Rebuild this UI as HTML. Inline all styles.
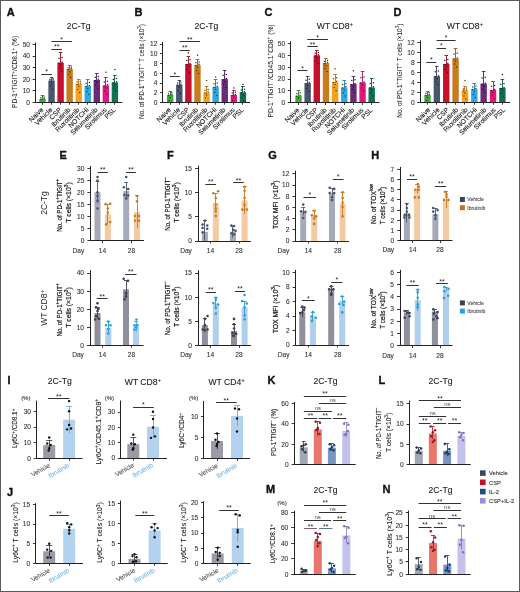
<!DOCTYPE html>
<html><head><meta charset="utf-8"><style>
html,body{margin:0;padding:0;background:#fff;}
#w{position:relative;width:520px;height:592px;overflow:hidden;background:#fff;}
svg{position:absolute;left:0;top:0;will-change:transform;}
</style></head><body><div id="w">
<svg width="520" height="592" viewBox="0 0 520 592" font-family='"Liberation Sans", sans-serif'>
<rect x="0" y="0" width="520" height="592" fill="#fff"/>
<rect x="39.30" y="99.01" width="6.40" height="3.49" fill="#3cab3a"/>
<line x1="42.50" y1="95.53" x2="42.50" y2="100.01" stroke="#2b7b29" stroke-width="0.9"/>
<line x1="40.70" y1="95.50" x2="44.30" y2="95.50" stroke="#2b7b29" stroke-width="0.9"/>
<circle cx="40.90" cy="97.77" r="0.75" fill="#194718"/>
<circle cx="44.10" cy="96.97" r="0.75" fill="#194718"/>
<circle cx="40.90" cy="99.61" r="0.75" fill="#194718"/>
<circle cx="44.10" cy="98.41" r="0.75" fill="#194718"/>
<rect x="48.35" y="80.65" width="6.40" height="21.85" fill="#4a566e"/>
<line x1="51.50" y1="77.52" x2="51.50" y2="81.65" stroke="#353d4f" stroke-width="0.9"/>
<line x1="49.75" y1="77.50" x2="53.35" y2="77.50" stroke="#353d4f" stroke-width="0.9"/>
<circle cx="49.95" cy="79.59" r="0.75" fill="#1f242e"/>
<circle cx="53.15" cy="78.79" r="0.75" fill="#1f242e"/>
<circle cx="49.95" cy="81.25" r="0.75" fill="#1f242e"/>
<circle cx="53.15" cy="80.05" r="0.75" fill="#1f242e"/>
<circle cx="51.55" cy="83.25" r="0.75" fill="#1f242e"/>
<circle cx="50.55" cy="86.15" r="0.75" fill="#1f242e"/>
<circle cx="52.55" cy="89.15" r="0.75" fill="#1f242e"/>
<rect x="57.40" y="62.76" width="6.40" height="39.74" fill="#c8102e"/>
<line x1="60.50" y1="52.88" x2="60.50" y2="63.76" stroke="#900b21" stroke-width="0.9"/>
<line x1="58.80" y1="52.50" x2="62.40" y2="52.50" stroke="#900b21" stroke-width="0.9"/>
<circle cx="59.00" cy="58.32" r="0.75" fill="#540613"/>
<circle cx="62.20" cy="57.52" r="0.75" fill="#540613"/>
<circle cx="59.00" cy="63.36" r="0.75" fill="#540613"/>
<circle cx="62.20" cy="62.16" r="0.75" fill="#540613"/>
<circle cx="60.60" cy="65.36" r="0.75" fill="#540613"/>
<circle cx="59.60" cy="68.26" r="0.75" fill="#540613"/>
<circle cx="61.60" cy="71.26" r="0.75" fill="#540613"/>
<rect x="66.45" y="69.03" width="6.40" height="33.47" fill="#c77c1e"/>
<line x1="69.50" y1="65.43" x2="69.50" y2="70.03" stroke="#8f5915" stroke-width="0.9"/>
<line x1="67.85" y1="65.50" x2="71.45" y2="65.50" stroke="#8f5915" stroke-width="0.9"/>
<circle cx="68.05" cy="67.73" r="0.75" fill="#53340c"/>
<circle cx="71.25" cy="66.93" r="0.75" fill="#53340c"/>
<circle cx="68.05" cy="69.63" r="0.75" fill="#53340c"/>
<circle cx="71.25" cy="68.43" r="0.75" fill="#53340c"/>
<circle cx="69.65" cy="71.63" r="0.75" fill="#53340c"/>
<circle cx="68.65" cy="74.53" r="0.75" fill="#53340c"/>
<circle cx="70.65" cy="77.53" r="0.75" fill="#53340c"/>
<rect x="75.50" y="83.91" width="6.40" height="18.59" fill="#f7a11a"/>
<line x1="78.50" y1="79.26" x2="78.50" y2="84.91" stroke="#b17312" stroke-width="0.9"/>
<line x1="76.90" y1="79.50" x2="80.50" y2="79.50" stroke="#b17312" stroke-width="0.9"/>
<circle cx="77.10" cy="82.08" r="0.75" fill="#67430a"/>
<circle cx="80.30" cy="81.28" r="0.75" fill="#67430a"/>
<circle cx="77.10" cy="84.51" r="0.75" fill="#67430a"/>
<circle cx="80.30" cy="83.31" r="0.75" fill="#67430a"/>
<circle cx="78.70" cy="86.51" r="0.75" fill="#67430a"/>
<circle cx="77.70" cy="89.41" r="0.75" fill="#67430a"/>
<circle cx="79.70" cy="92.41" r="0.75" fill="#67430a"/>
<rect x="84.55" y="86.00" width="6.40" height="16.50" fill="#2fa8e0"/>
<line x1="87.50" y1="79.84" x2="87.50" y2="87.00" stroke="#2178a1" stroke-width="0.9"/>
<line x1="85.95" y1="79.50" x2="89.55" y2="79.50" stroke="#2178a1" stroke-width="0.9"/>
<circle cx="86.15" cy="83.42" r="0.75" fill="#13465e"/>
<circle cx="89.35" cy="82.62" r="0.75" fill="#13465e"/>
<circle cx="86.15" cy="86.60" r="0.75" fill="#13465e"/>
<circle cx="89.35" cy="85.40" r="0.75" fill="#13465e"/>
<circle cx="87.75" cy="88.60" r="0.75" fill="#13465e"/>
<circle cx="86.75" cy="91.50" r="0.75" fill="#13465e"/>
<circle cx="88.75" cy="94.50" r="0.75" fill="#13465e"/>
<rect x="93.60" y="79.96" width="6.40" height="22.54" fill="#6a2a7a"/>
<line x1="96.50" y1="73.45" x2="96.50" y2="80.96" stroke="#4c1e57" stroke-width="0.9"/>
<line x1="95.00" y1="73.50" x2="98.60" y2="73.50" stroke="#4c1e57" stroke-width="0.9"/>
<circle cx="95.20" cy="77.20" r="0.75" fill="#2c1133"/>
<circle cx="98.40" cy="76.40" r="0.75" fill="#2c1133"/>
<circle cx="95.20" cy="80.56" r="0.75" fill="#2c1133"/>
<circle cx="98.40" cy="79.36" r="0.75" fill="#2c1133"/>
<circle cx="96.80" cy="82.56" r="0.75" fill="#2c1133"/>
<circle cx="95.80" cy="85.46" r="0.75" fill="#2c1133"/>
<circle cx="97.80" cy="88.46" r="0.75" fill="#2c1133"/>
<rect x="102.65" y="85.42" width="6.40" height="17.08" fill="#e5167f"/>
<line x1="105.50" y1="77.52" x2="105.50" y2="86.42" stroke="#a40f5b" stroke-width="0.9"/>
<line x1="104.05" y1="77.50" x2="107.65" y2="77.50" stroke="#a40f5b" stroke-width="0.9"/>
<circle cx="104.25" cy="81.97" r="0.75" fill="#600935"/>
<circle cx="107.45" cy="81.17" r="0.75" fill="#600935"/>
<circle cx="104.25" cy="86.02" r="0.75" fill="#600935"/>
<circle cx="107.45" cy="84.82" r="0.75" fill="#600935"/>
<circle cx="105.85" cy="88.02" r="0.75" fill="#600935"/>
<circle cx="104.85" cy="90.92" r="0.75" fill="#600935"/>
<circle cx="106.85" cy="93.92" r="0.75" fill="#600935"/>
<circle cx="105.85" cy="72.29" r="0.75" fill="#600935"/>
<rect x="111.70" y="82.40" width="6.40" height="20.10" fill="#0f7250"/>
<line x1="114.50" y1="75.43" x2="114.50" y2="83.40" stroke="#0a5239" stroke-width="0.9"/>
<line x1="113.10" y1="75.50" x2="116.70" y2="75.50" stroke="#0a5239" stroke-width="0.9"/>
<circle cx="113.30" cy="79.41" r="0.75" fill="#062f21"/>
<circle cx="116.50" cy="78.61" r="0.75" fill="#062f21"/>
<circle cx="113.30" cy="83.00" r="0.75" fill="#062f21"/>
<circle cx="116.50" cy="81.80" r="0.75" fill="#062f21"/>
<circle cx="114.90" cy="85.00" r="0.75" fill="#062f21"/>
<circle cx="113.90" cy="87.90" r="0.75" fill="#062f21"/>
<circle cx="115.90" cy="90.90" r="0.75" fill="#062f21"/>
<circle cx="114.90" cy="69.38" r="0.75" fill="#062f21"/>
<line x1="35.50" y1="42.50" x2="35.50" y2="102.50" stroke="#222" stroke-width="1.0"/>
<line x1="34.90" y1="102.50" x2="122.30" y2="102.50" stroke="#222" stroke-width="1.0"/>
<line x1="32.60" y1="102.50" x2="35.40" y2="102.50" stroke="#222" stroke-width="0.9"/>
<text x="30.00" y="104.88" font-size="6.6" text-anchor="end" fill="#333" font-weight="normal" font-family='"Liberation Sans", sans-serif' stroke="#333" stroke-width="0.1">0</text>
<line x1="32.60" y1="90.50" x2="35.40" y2="90.50" stroke="#222" stroke-width="0.9"/>
<text x="30.00" y="93.26" font-size="6.6" text-anchor="end" fill="#333" font-weight="normal" font-family='"Liberation Sans", sans-serif' stroke="#333" stroke-width="0.1">10</text>
<line x1="32.60" y1="79.50" x2="35.40" y2="79.50" stroke="#222" stroke-width="0.9"/>
<text x="30.00" y="81.64" font-size="6.6" text-anchor="end" fill="#333" font-weight="normal" font-family='"Liberation Sans", sans-serif' stroke="#333" stroke-width="0.1">20</text>
<line x1="32.60" y1="67.50" x2="35.40" y2="67.50" stroke="#222" stroke-width="0.9"/>
<text x="30.00" y="70.02" font-size="6.6" text-anchor="end" fill="#333" font-weight="normal" font-family='"Liberation Sans", sans-serif' stroke="#333" stroke-width="0.1">30</text>
<line x1="32.60" y1="56.50" x2="35.40" y2="56.50" stroke="#222" stroke-width="0.9"/>
<text x="30.00" y="58.40" font-size="6.6" text-anchor="end" fill="#333" font-weight="normal" font-family='"Liberation Sans", sans-serif' stroke="#333" stroke-width="0.1">40</text>
<line x1="32.60" y1="44.50" x2="35.40" y2="44.50" stroke="#222" stroke-width="0.9"/>
<text x="30.00" y="46.78" font-size="6.6" text-anchor="end" fill="#333" font-weight="normal" font-family='"Liberation Sans", sans-serif' stroke="#333" stroke-width="0.1">50</text>
<line x1="42.50" y1="102.50" x2="42.50" y2="104.70" stroke="#222" stroke-width="0.9"/>
<line x1="51.50" y1="102.50" x2="51.50" y2="104.70" stroke="#222" stroke-width="0.9"/>
<line x1="60.50" y1="102.50" x2="60.50" y2="104.70" stroke="#222" stroke-width="0.9"/>
<line x1="69.50" y1="102.50" x2="69.50" y2="104.70" stroke="#222" stroke-width="0.9"/>
<line x1="78.50" y1="102.50" x2="78.50" y2="104.70" stroke="#222" stroke-width="0.9"/>
<line x1="87.50" y1="102.50" x2="87.50" y2="104.70" stroke="#222" stroke-width="0.9"/>
<line x1="96.50" y1="102.50" x2="96.50" y2="104.70" stroke="#222" stroke-width="0.9"/>
<line x1="105.50" y1="102.50" x2="105.50" y2="104.70" stroke="#222" stroke-width="0.9"/>
<line x1="114.50" y1="102.50" x2="114.50" y2="104.70" stroke="#222" stroke-width="0.9"/>
<text x="43.80" y="110.30" font-size="6.75" text-anchor="end" fill="#222" font-weight="normal" font-family='"Liberation Sans", sans-serif' transform="rotate(-45 43.80 110.30)" stroke="#222" stroke-width="0.1">Naive</text>
<text x="52.85" y="110.30" font-size="6.75" text-anchor="end" fill="#222" font-weight="normal" font-family='"Liberation Sans", sans-serif' transform="rotate(-45 52.85 110.30)" stroke="#222" stroke-width="0.1">Vehicle</text>
<text x="61.90" y="110.30" font-size="6.75" text-anchor="end" fill="#222" font-weight="normal" font-family='"Liberation Sans", sans-serif' transform="rotate(-45 61.90 110.30)" stroke="#222" stroke-width="0.1">CSP</text>
<text x="70.95" y="110.30" font-size="6.75" text-anchor="end" fill="#222" font-weight="normal" font-family='"Liberation Sans", sans-serif' transform="rotate(-45 70.95 110.30)" stroke="#222" stroke-width="0.1">Ibrutinib</text>
<text x="80.00" y="110.30" font-size="6.75" text-anchor="end" fill="#222" font-weight="normal" font-family='"Liberation Sans", sans-serif' transform="rotate(-45 80.00 110.30)" stroke="#222" stroke-width="0.1">Ruxolitinib</text>
<text x="89.05" y="110.30" font-size="6.75" text-anchor="end" fill="#222" font-weight="normal" font-family='"Liberation Sans", sans-serif' transform="rotate(-45 89.05 110.30)" stroke="#222" stroke-width="0.1">NOTCHi</text>
<text x="98.10" y="110.30" font-size="6.75" text-anchor="end" fill="#222" font-weight="normal" font-family='"Liberation Sans", sans-serif' transform="rotate(-45 98.10 110.30)" stroke="#222" stroke-width="0.1">Selumetinib</text>
<text x="107.15" y="110.30" font-size="6.75" text-anchor="end" fill="#222" font-weight="normal" font-family='"Liberation Sans", sans-serif' transform="rotate(-45 107.15 110.30)" stroke="#222" stroke-width="0.1">Sirolimus</text>
<text x="116.20" y="110.30" font-size="6.75" text-anchor="end" fill="#222" font-weight="normal" font-family='"Liberation Sans", sans-serif' transform="rotate(-45 116.20 110.30)" stroke="#222" stroke-width="0.1">PSL</text>
<line x1="51.50" y1="41.50" x2="71.90" y2="41.50" stroke="#333" stroke-width="1.0"/>
<text x="61.70" y="41.50" font-size="7.0" text-anchor="middle" fill="#222" font-weight="normal" font-family='"Liberation Sans", sans-serif' stroke-width="0">*</text>
<line x1="51.50" y1="49.50" x2="61.90" y2="49.50" stroke="#333" stroke-width="1.0"/>
<text x="56.70" y="49.40" font-size="7.0" text-anchor="middle" fill="#222" font-weight="normal" font-family='"Liberation Sans", sans-serif' stroke-width="0">**</text>
<line x1="41.30" y1="74.50" x2="51.90" y2="74.50" stroke="#333" stroke-width="1.0"/>
<text x="46.60" y="74.40" font-size="7.0" text-anchor="middle" fill="#222" font-weight="normal" font-family='"Liberation Sans", sans-serif' stroke-width="0">*</text>
<text x="78.60" y="29.10" font-size="8.6" text-anchor="middle" fill="#222" font-weight="normal" font-family='"Liberation Sans", sans-serif' stroke="#222" stroke-width="0.1">2C-Tg</text>
<text x="17.48" y="71.90" font-size="8.0" text-anchor="middle" fill="#222" font-weight="normal" font-family='"Liberation Sans", sans-serif' textLength="72.00" lengthAdjust="spacingAndGlyphs" transform="rotate(-90 17.48 71.90)" stroke="#222" stroke-width="0.05">PD-1<tspan font-size="5.76" dy="-2.88">+</tspan><tspan dy="2.88">TIGIT</tspan><tspan font-size="5.76" dy="-2.88">+</tspan><tspan dy="2.88">/CD8.1</tspan><tspan font-size="5.76" dy="-2.88">+</tspan><tspan dy="2.88"> (%)</tspan></text>
<text x="6.80" y="16.20" font-size="11" text-anchor="start" fill="#111" font-weight="bold" font-family='"Liberation Sans", sans-serif' stroke="#111" stroke-width="0.35">A</text>
<rect x="167.00" y="94.99" width="6.40" height="7.51" fill="#3cab3a"/>
<line x1="170.50" y1="91.29" x2="170.50" y2="95.99" stroke="#2b7b29" stroke-width="0.9"/>
<line x1="168.40" y1="91.50" x2="172.00" y2="91.50" stroke="#2b7b29" stroke-width="0.9"/>
<circle cx="168.60" cy="93.64" r="0.75" fill="#194718"/>
<circle cx="171.80" cy="92.84" r="0.75" fill="#194718"/>
<circle cx="168.60" cy="95.59" r="0.75" fill="#194718"/>
<circle cx="171.80" cy="94.39" r="0.75" fill="#194718"/>
<circle cx="170.20" cy="97.59" r="0.75" fill="#194718"/>
<circle cx="169.20" cy="100.49" r="0.75" fill="#194718"/>
<rect x="176.09" y="84.75" width="6.40" height="17.75" fill="#4a566e"/>
<line x1="179.50" y1="80.08" x2="179.50" y2="85.75" stroke="#353d4f" stroke-width="0.9"/>
<line x1="177.49" y1="80.50" x2="181.09" y2="80.50" stroke="#353d4f" stroke-width="0.9"/>
<circle cx="177.69" cy="82.91" r="0.75" fill="#1f242e"/>
<circle cx="180.89" cy="82.11" r="0.75" fill="#1f242e"/>
<circle cx="177.69" cy="85.35" r="0.75" fill="#1f242e"/>
<circle cx="180.89" cy="84.16" r="0.75" fill="#1f242e"/>
<circle cx="179.29" cy="87.35" r="0.75" fill="#1f242e"/>
<circle cx="178.29" cy="90.25" r="0.75" fill="#1f242e"/>
<circle cx="180.29" cy="93.25" r="0.75" fill="#1f242e"/>
<rect x="185.18" y="63.99" width="6.40" height="38.51" fill="#c8102e"/>
<line x1="188.50" y1="56.19" x2="188.50" y2="64.99" stroke="#900b21" stroke-width="0.9"/>
<line x1="186.58" y1="56.50" x2="190.18" y2="56.50" stroke="#900b21" stroke-width="0.9"/>
<circle cx="186.78" cy="60.59" r="0.75" fill="#540613"/>
<circle cx="189.98" cy="59.79" r="0.75" fill="#540613"/>
<circle cx="186.78" cy="64.59" r="0.75" fill="#540613"/>
<circle cx="189.98" cy="63.39" r="0.75" fill="#540613"/>
<circle cx="188.38" cy="66.59" r="0.75" fill="#540613"/>
<circle cx="187.38" cy="69.49" r="0.75" fill="#540613"/>
<circle cx="189.38" cy="72.49" r="0.75" fill="#540613"/>
<circle cx="188.38" cy="52.78" r="0.75" fill="#540613"/>
<rect x="194.27" y="64.96" width="6.40" height="37.54" fill="#c77c1e"/>
<line x1="197.50" y1="59.60" x2="197.50" y2="65.96" stroke="#8f5915" stroke-width="0.9"/>
<line x1="195.67" y1="59.50" x2="199.27" y2="59.50" stroke="#8f5915" stroke-width="0.9"/>
<circle cx="195.87" cy="62.78" r="0.75" fill="#53340c"/>
<circle cx="199.07" cy="61.98" r="0.75" fill="#53340c"/>
<circle cx="195.87" cy="65.56" r="0.75" fill="#53340c"/>
<circle cx="199.07" cy="64.36" r="0.75" fill="#53340c"/>
<circle cx="197.47" cy="67.56" r="0.75" fill="#53340c"/>
<circle cx="196.47" cy="70.46" r="0.75" fill="#53340c"/>
<circle cx="198.47" cy="73.46" r="0.75" fill="#53340c"/>
<circle cx="197.47" cy="55.21" r="0.75" fill="#53340c"/>
<rect x="203.36" y="92.51" width="6.40" height="9.99" fill="#f7a11a"/>
<line x1="206.50" y1="86.90" x2="206.50" y2="93.51" stroke="#b17312" stroke-width="0.9"/>
<line x1="204.76" y1="86.50" x2="208.36" y2="86.50" stroke="#b17312" stroke-width="0.9"/>
<circle cx="204.96" cy="90.20" r="0.75" fill="#67430a"/>
<circle cx="208.16" cy="89.40" r="0.75" fill="#67430a"/>
<circle cx="204.96" cy="93.11" r="0.75" fill="#67430a"/>
<circle cx="208.16" cy="91.91" r="0.75" fill="#67430a"/>
<circle cx="206.56" cy="95.11" r="0.75" fill="#67430a"/>
<circle cx="205.56" cy="98.01" r="0.75" fill="#67430a"/>
<circle cx="206.56" cy="80.56" r="0.75" fill="#67430a"/>
<rect x="212.45" y="86.90" width="6.40" height="15.60" fill="#2fa8e0"/>
<line x1="215.50" y1="79.59" x2="215.50" y2="87.90" stroke="#2178a1" stroke-width="0.9"/>
<line x1="213.85" y1="79.50" x2="217.45" y2="79.50" stroke="#2178a1" stroke-width="0.9"/>
<circle cx="214.05" cy="83.74" r="0.75" fill="#13465e"/>
<circle cx="217.25" cy="82.94" r="0.75" fill="#13465e"/>
<circle cx="214.05" cy="87.50" r="0.75" fill="#13465e"/>
<circle cx="217.25" cy="86.30" r="0.75" fill="#13465e"/>
<circle cx="215.65" cy="89.50" r="0.75" fill="#13465e"/>
<circle cx="214.65" cy="92.40" r="0.75" fill="#13465e"/>
<circle cx="216.65" cy="95.40" r="0.75" fill="#13465e"/>
<circle cx="215.65" cy="76.91" r="0.75" fill="#13465e"/>
<rect x="221.54" y="79.10" width="6.40" height="23.40" fill="#6a2a7a"/>
<line x1="224.50" y1="70.33" x2="224.50" y2="80.10" stroke="#4c1e57" stroke-width="0.9"/>
<line x1="222.94" y1="70.50" x2="226.54" y2="70.50" stroke="#4c1e57" stroke-width="0.9"/>
<circle cx="223.14" cy="75.21" r="0.75" fill="#2c1133"/>
<circle cx="226.34" cy="74.41" r="0.75" fill="#2c1133"/>
<circle cx="223.14" cy="79.70" r="0.75" fill="#2c1133"/>
<circle cx="226.34" cy="78.50" r="0.75" fill="#2c1133"/>
<circle cx="224.74" cy="81.70" r="0.75" fill="#2c1133"/>
<circle cx="223.74" cy="84.60" r="0.75" fill="#2c1133"/>
<circle cx="225.74" cy="87.60" r="0.75" fill="#2c1133"/>
<rect x="230.63" y="94.99" width="6.40" height="7.51" fill="#e5167f"/>
<line x1="233.50" y1="90.02" x2="233.50" y2="95.99" stroke="#a40f5b" stroke-width="0.9"/>
<line x1="232.03" y1="90.50" x2="235.63" y2="90.50" stroke="#a40f5b" stroke-width="0.9"/>
<circle cx="232.23" cy="93.01" r="0.75" fill="#600935"/>
<circle cx="235.43" cy="92.21" r="0.75" fill="#600935"/>
<circle cx="232.23" cy="95.59" r="0.75" fill="#600935"/>
<circle cx="235.43" cy="94.39" r="0.75" fill="#600935"/>
<circle cx="233.83" cy="97.59" r="0.75" fill="#600935"/>
<circle cx="232.83" cy="100.49" r="0.75" fill="#600935"/>
<circle cx="233.83" cy="87.88" r="0.75" fill="#600935"/>
<rect x="239.72" y="92.26" width="6.40" height="10.24" fill="#0f7250"/>
<line x1="242.50" y1="86.90" x2="242.50" y2="93.26" stroke="#0a5239" stroke-width="0.9"/>
<line x1="241.12" y1="86.50" x2="244.72" y2="86.50" stroke="#0a5239" stroke-width="0.9"/>
<circle cx="241.32" cy="90.08" r="0.75" fill="#062f21"/>
<circle cx="244.52" cy="89.28" r="0.75" fill="#062f21"/>
<circle cx="241.32" cy="92.86" r="0.75" fill="#062f21"/>
<circle cx="244.52" cy="91.66" r="0.75" fill="#062f21"/>
<circle cx="242.92" cy="94.86" r="0.75" fill="#062f21"/>
<circle cx="241.92" cy="97.76" r="0.75" fill="#062f21"/>
<circle cx="243.92" cy="100.76" r="0.75" fill="#062f21"/>
<circle cx="242.92" cy="84.46" r="0.75" fill="#062f21"/>
<line x1="162.50" y1="42.00" x2="162.50" y2="102.50" stroke="#222" stroke-width="1.0"/>
<line x1="162.30" y1="102.50" x2="250.00" y2="102.50" stroke="#222" stroke-width="1.0"/>
<line x1="160.00" y1="102.50" x2="162.80" y2="102.50" stroke="#222" stroke-width="0.9"/>
<text x="157.40" y="104.88" font-size="6.6" text-anchor="end" fill="#333" font-weight="normal" font-family='"Liberation Sans", sans-serif' stroke="#333" stroke-width="0.1">0</text>
<line x1="160.00" y1="92.50" x2="162.80" y2="92.50" stroke="#222" stroke-width="0.9"/>
<text x="157.40" y="95.13" font-size="6.6" text-anchor="end" fill="#333" font-weight="normal" font-family='"Liberation Sans", sans-serif' stroke="#333" stroke-width="0.1">2</text>
<line x1="160.00" y1="83.50" x2="162.80" y2="83.50" stroke="#222" stroke-width="0.9"/>
<text x="157.40" y="85.38" font-size="6.6" text-anchor="end" fill="#333" font-weight="normal" font-family='"Liberation Sans", sans-serif' stroke="#333" stroke-width="0.1">4</text>
<line x1="160.00" y1="73.50" x2="162.80" y2="73.50" stroke="#222" stroke-width="0.9"/>
<text x="157.40" y="75.63" font-size="6.6" text-anchor="end" fill="#333" font-weight="normal" font-family='"Liberation Sans", sans-serif' stroke="#333" stroke-width="0.1">6</text>
<line x1="160.00" y1="63.50" x2="162.80" y2="63.50" stroke="#222" stroke-width="0.9"/>
<text x="157.40" y="65.88" font-size="6.6" text-anchor="end" fill="#333" font-weight="normal" font-family='"Liberation Sans", sans-serif' stroke="#333" stroke-width="0.1">8</text>
<line x1="160.00" y1="53.50" x2="162.80" y2="53.50" stroke="#222" stroke-width="0.9"/>
<text x="157.40" y="56.13" font-size="6.6" text-anchor="end" fill="#333" font-weight="normal" font-family='"Liberation Sans", sans-serif' stroke="#333" stroke-width="0.1">10</text>
<line x1="160.00" y1="44.50" x2="162.80" y2="44.50" stroke="#222" stroke-width="0.9"/>
<text x="157.40" y="46.38" font-size="6.6" text-anchor="end" fill="#333" font-weight="normal" font-family='"Liberation Sans", sans-serif' stroke="#333" stroke-width="0.1">12</text>
<line x1="170.50" y1="102.50" x2="170.50" y2="104.70" stroke="#222" stroke-width="0.9"/>
<line x1="179.50" y1="102.50" x2="179.50" y2="104.70" stroke="#222" stroke-width="0.9"/>
<line x1="188.50" y1="102.50" x2="188.50" y2="104.70" stroke="#222" stroke-width="0.9"/>
<line x1="197.50" y1="102.50" x2="197.50" y2="104.70" stroke="#222" stroke-width="0.9"/>
<line x1="206.50" y1="102.50" x2="206.50" y2="104.70" stroke="#222" stroke-width="0.9"/>
<line x1="215.50" y1="102.50" x2="215.50" y2="104.70" stroke="#222" stroke-width="0.9"/>
<line x1="224.50" y1="102.50" x2="224.50" y2="104.70" stroke="#222" stroke-width="0.9"/>
<line x1="233.50" y1="102.50" x2="233.50" y2="104.70" stroke="#222" stroke-width="0.9"/>
<line x1="242.50" y1="102.50" x2="242.50" y2="104.70" stroke="#222" stroke-width="0.9"/>
<text x="171.50" y="110.30" font-size="6.75" text-anchor="end" fill="#222" font-weight="normal" font-family='"Liberation Sans", sans-serif' transform="rotate(-45 171.50 110.30)" stroke="#222" stroke-width="0.1">Naive</text>
<text x="180.59" y="110.30" font-size="6.75" text-anchor="end" fill="#222" font-weight="normal" font-family='"Liberation Sans", sans-serif' transform="rotate(-45 180.59 110.30)" stroke="#222" stroke-width="0.1">Vehicle</text>
<text x="189.68" y="110.30" font-size="6.75" text-anchor="end" fill="#222" font-weight="normal" font-family='"Liberation Sans", sans-serif' transform="rotate(-45 189.68 110.30)" stroke="#222" stroke-width="0.1">CSP</text>
<text x="198.77" y="110.30" font-size="6.75" text-anchor="end" fill="#222" font-weight="normal" font-family='"Liberation Sans", sans-serif' transform="rotate(-45 198.77 110.30)" stroke="#222" stroke-width="0.1">Ibrutinib</text>
<text x="207.86" y="110.30" font-size="6.75" text-anchor="end" fill="#222" font-weight="normal" font-family='"Liberation Sans", sans-serif' transform="rotate(-45 207.86 110.30)" stroke="#222" stroke-width="0.1">Ruxolitinib</text>
<text x="216.95" y="110.30" font-size="6.75" text-anchor="end" fill="#222" font-weight="normal" font-family='"Liberation Sans", sans-serif' transform="rotate(-45 216.95 110.30)" stroke="#222" stroke-width="0.1">NOTCHi</text>
<text x="226.04" y="110.30" font-size="6.75" text-anchor="end" fill="#222" font-weight="normal" font-family='"Liberation Sans", sans-serif' transform="rotate(-45 226.04 110.30)" stroke="#222" stroke-width="0.1">Selumetinib</text>
<text x="235.13" y="110.30" font-size="6.75" text-anchor="end" fill="#222" font-weight="normal" font-family='"Liberation Sans", sans-serif' transform="rotate(-45 235.13 110.30)" stroke="#222" stroke-width="0.1">Sirolimus</text>
<text x="244.22" y="110.30" font-size="6.75" text-anchor="end" fill="#222" font-weight="normal" font-family='"Liberation Sans", sans-serif' transform="rotate(-45 244.22 110.30)" stroke="#222" stroke-width="0.1">PSL</text>
<line x1="179.50" y1="41.50" x2="200.00" y2="41.50" stroke="#333" stroke-width="1.0"/>
<text x="189.75" y="41.90" font-size="7.0" text-anchor="middle" fill="#222" font-weight="normal" font-family='"Liberation Sans", sans-serif' stroke-width="0">**</text>
<line x1="179.50" y1="50.50" x2="189.80" y2="50.50" stroke="#333" stroke-width="1.0"/>
<text x="184.65" y="50.00" font-size="7.0" text-anchor="middle" fill="#222" font-weight="normal" font-family='"Liberation Sans", sans-serif' stroke-width="0">**</text>
<line x1="170.00" y1="76.50" x2="179.80" y2="76.50" stroke="#333" stroke-width="1.0"/>
<text x="174.90" y="76.90" font-size="7.0" text-anchor="middle" fill="#222" font-weight="normal" font-family='"Liberation Sans", sans-serif' stroke-width="0">*</text>
<text x="206.40" y="29.10" font-size="8.6" text-anchor="middle" fill="#222" font-weight="normal" font-family='"Liberation Sans", sans-serif' stroke="#222" stroke-width="0.1">2C-Tg</text>
<text x="143.98" y="71.50" font-size="8.0" text-anchor="middle" fill="#222" font-weight="normal" font-family='"Liberation Sans", sans-serif' textLength="95.00" lengthAdjust="spacingAndGlyphs" transform="rotate(-90 143.98 71.50)" stroke="#222" stroke-width="0.05">No. of PD-1<tspan font-size="5.76" dy="-2.88">+</tspan><tspan dy="2.88">TIGIT</tspan><tspan font-size="5.76" dy="-2.88">+</tspan><tspan dy="2.88"> T cells (×10</tspan><tspan font-size="5.76" dy="-2.88">3</tspan><tspan dy="2.88">)</tspan></text>
<text x="134.60" y="16.20" font-size="11" text-anchor="start" fill="#111" font-weight="bold" font-family='"Liberation Sans", sans-serif' stroke="#111" stroke-width="0.35">B</text>
<rect x="295.30" y="95.76" width="6.40" height="6.99" fill="#3cab3a"/>
<line x1="298.50" y1="90.54" x2="298.50" y2="96.76" stroke="#2b7b29" stroke-width="0.9"/>
<line x1="296.70" y1="90.50" x2="300.30" y2="90.50" stroke="#2b7b29" stroke-width="0.9"/>
<circle cx="296.90" cy="93.65" r="0.75" fill="#194718"/>
<circle cx="300.10" cy="92.85" r="0.75" fill="#194718"/>
<circle cx="296.90" cy="96.36" r="0.75" fill="#194718"/>
<circle cx="300.10" cy="95.16" r="0.75" fill="#194718"/>
<circle cx="298.50" cy="98.36" r="0.75" fill="#194718"/>
<rect x="304.45" y="83.08" width="6.40" height="19.67" fill="#4a566e"/>
<line x1="307.50" y1="76.21" x2="307.50" y2="84.08" stroke="#353d4f" stroke-width="0.9"/>
<line x1="305.85" y1="76.50" x2="309.45" y2="76.50" stroke="#353d4f" stroke-width="0.9"/>
<circle cx="306.05" cy="80.14" r="0.75" fill="#1f242e"/>
<circle cx="309.25" cy="79.34" r="0.75" fill="#1f242e"/>
<circle cx="306.05" cy="83.68" r="0.75" fill="#1f242e"/>
<circle cx="309.25" cy="82.48" r="0.75" fill="#1f242e"/>
<circle cx="307.65" cy="85.68" r="0.75" fill="#1f242e"/>
<circle cx="306.65" cy="88.58" r="0.75" fill="#1f242e"/>
<circle cx="308.65" cy="91.58" r="0.75" fill="#1f242e"/>
<rect x="313.60" y="55.35" width="6.40" height="47.40" fill="#c8102e"/>
<line x1="316.50" y1="50.02" x2="316.50" y2="56.35" stroke="#900b21" stroke-width="0.9"/>
<line x1="315.00" y1="50.50" x2="318.60" y2="50.50" stroke="#900b21" stroke-width="0.9"/>
<circle cx="315.20" cy="53.18" r="0.75" fill="#540613"/>
<circle cx="318.40" cy="52.38" r="0.75" fill="#540613"/>
<circle cx="315.20" cy="55.95" r="0.75" fill="#540613"/>
<circle cx="318.40" cy="54.75" r="0.75" fill="#540613"/>
<circle cx="316.80" cy="57.95" r="0.75" fill="#540613"/>
<circle cx="315.80" cy="60.85" r="0.75" fill="#540613"/>
<circle cx="317.80" cy="63.85" r="0.75" fill="#540613"/>
<rect x="322.75" y="63.05" width="6.40" height="39.70" fill="#c77c1e"/>
<line x1="325.50" y1="58.79" x2="325.50" y2="64.05" stroke="#8f5915" stroke-width="0.9"/>
<line x1="324.15" y1="58.50" x2="327.75" y2="58.50" stroke="#8f5915" stroke-width="0.9"/>
<circle cx="324.35" cy="61.42" r="0.75" fill="#53340c"/>
<circle cx="327.55" cy="60.62" r="0.75" fill="#53340c"/>
<circle cx="324.35" cy="63.65" r="0.75" fill="#53340c"/>
<circle cx="327.55" cy="62.45" r="0.75" fill="#53340c"/>
<circle cx="325.95" cy="65.65" r="0.75" fill="#53340c"/>
<circle cx="324.95" cy="68.55" r="0.75" fill="#53340c"/>
<circle cx="326.95" cy="71.55" r="0.75" fill="#53340c"/>
<rect x="331.90" y="81.89" width="6.40" height="20.86" fill="#f7a11a"/>
<line x1="335.50" y1="74.43" x2="335.50" y2="82.89" stroke="#b17312" stroke-width="0.9"/>
<line x1="333.30" y1="74.50" x2="336.90" y2="74.50" stroke="#b17312" stroke-width="0.9"/>
<circle cx="333.50" cy="78.66" r="0.75" fill="#67430a"/>
<circle cx="336.70" cy="77.86" r="0.75" fill="#67430a"/>
<circle cx="333.50" cy="82.49" r="0.75" fill="#67430a"/>
<circle cx="336.70" cy="81.29" r="0.75" fill="#67430a"/>
<circle cx="335.10" cy="84.49" r="0.75" fill="#67430a"/>
<circle cx="334.10" cy="87.39" r="0.75" fill="#67430a"/>
<circle cx="336.10" cy="90.39" r="0.75" fill="#67430a"/>
<circle cx="335.10" cy="68.74" r="0.75" fill="#67430a"/>
<rect x="341.05" y="87.46" width="6.40" height="15.29" fill="#2fa8e0"/>
<line x1="344.50" y1="80.59" x2="344.50" y2="88.46" stroke="#2178a1" stroke-width="0.9"/>
<line x1="342.45" y1="80.50" x2="346.05" y2="80.50" stroke="#2178a1" stroke-width="0.9"/>
<circle cx="342.65" cy="84.53" r="0.75" fill="#13465e"/>
<circle cx="345.85" cy="83.73" r="0.75" fill="#13465e"/>
<circle cx="342.65" cy="88.06" r="0.75" fill="#13465e"/>
<circle cx="345.85" cy="86.86" r="0.75" fill="#13465e"/>
<circle cx="344.25" cy="90.06" r="0.75" fill="#13465e"/>
<circle cx="343.25" cy="92.96" r="0.75" fill="#13465e"/>
<circle cx="345.25" cy="95.96" r="0.75" fill="#13465e"/>
<rect x="350.20" y="84.03" width="6.40" height="18.72" fill="#6a2a7a"/>
<line x1="353.50" y1="76.21" x2="353.50" y2="85.03" stroke="#4c1e57" stroke-width="0.9"/>
<line x1="351.60" y1="76.50" x2="355.20" y2="76.50" stroke="#4c1e57" stroke-width="0.9"/>
<circle cx="351.80" cy="80.62" r="0.75" fill="#2c1133"/>
<circle cx="355.00" cy="79.82" r="0.75" fill="#2c1133"/>
<circle cx="351.80" cy="84.63" r="0.75" fill="#2c1133"/>
<circle cx="355.00" cy="83.43" r="0.75" fill="#2c1133"/>
<circle cx="353.40" cy="86.63" r="0.75" fill="#2c1133"/>
<circle cx="352.40" cy="89.53" r="0.75" fill="#2c1133"/>
<circle cx="354.40" cy="92.53" r="0.75" fill="#2c1133"/>
<circle cx="353.40" cy="70.64" r="0.75" fill="#2c1133"/>
<rect x="359.35" y="82.49" width="6.40" height="20.26" fill="#e5167f"/>
<line x1="362.50" y1="71.94" x2="362.50" y2="83.49" stroke="#a40f5b" stroke-width="0.9"/>
<line x1="360.75" y1="71.50" x2="364.35" y2="71.50" stroke="#a40f5b" stroke-width="0.9"/>
<circle cx="360.95" cy="77.71" r="0.75" fill="#600935"/>
<circle cx="364.15" cy="76.91" r="0.75" fill="#600935"/>
<circle cx="360.95" cy="83.09" r="0.75" fill="#600935"/>
<circle cx="364.15" cy="81.89" r="0.75" fill="#600935"/>
<circle cx="362.55" cy="85.09" r="0.75" fill="#600935"/>
<circle cx="361.55" cy="87.99" r="0.75" fill="#600935"/>
<circle cx="363.55" cy="90.99" r="0.75" fill="#600935"/>
<rect x="368.50" y="87.46" width="6.40" height="15.29" fill="#0f7250"/>
<line x1="371.50" y1="78.75" x2="371.50" y2="88.46" stroke="#0a5239" stroke-width="0.9"/>
<line x1="369.90" y1="78.50" x2="373.50" y2="78.50" stroke="#0a5239" stroke-width="0.9"/>
<circle cx="370.10" cy="83.61" r="0.75" fill="#062f21"/>
<circle cx="373.30" cy="82.81" r="0.75" fill="#062f21"/>
<circle cx="370.10" cy="88.06" r="0.75" fill="#062f21"/>
<circle cx="373.30" cy="86.86" r="0.75" fill="#062f21"/>
<circle cx="371.70" cy="90.06" r="0.75" fill="#062f21"/>
<circle cx="370.70" cy="92.96" r="0.75" fill="#062f21"/>
<circle cx="372.70" cy="95.96" r="0.75" fill="#062f21"/>
<line x1="290.50" y1="41.25" x2="290.50" y2="102.75" stroke="#222" stroke-width="1.0"/>
<line x1="290.10" y1="102.50" x2="379.50" y2="102.50" stroke="#222" stroke-width="1.0"/>
<line x1="287.80" y1="102.50" x2="290.60" y2="102.50" stroke="#222" stroke-width="0.9"/>
<text x="285.20" y="105.13" font-size="6.6" text-anchor="end" fill="#333" font-weight="normal" font-family='"Liberation Sans", sans-serif' stroke="#333" stroke-width="0.1">0</text>
<line x1="287.80" y1="90.50" x2="290.60" y2="90.50" stroke="#222" stroke-width="0.9"/>
<text x="285.20" y="93.28" font-size="6.6" text-anchor="end" fill="#333" font-weight="normal" font-family='"Liberation Sans", sans-serif' stroke="#333" stroke-width="0.1">10</text>
<line x1="287.80" y1="79.50" x2="290.60" y2="79.50" stroke="#222" stroke-width="0.9"/>
<text x="285.20" y="81.43" font-size="6.6" text-anchor="end" fill="#333" font-weight="normal" font-family='"Liberation Sans", sans-serif' stroke="#333" stroke-width="0.1">20</text>
<line x1="287.80" y1="67.50" x2="290.60" y2="67.50" stroke="#222" stroke-width="0.9"/>
<text x="285.20" y="69.58" font-size="6.6" text-anchor="end" fill="#333" font-weight="normal" font-family='"Liberation Sans", sans-serif' stroke="#333" stroke-width="0.1">30</text>
<line x1="287.80" y1="55.50" x2="290.60" y2="55.50" stroke="#222" stroke-width="0.9"/>
<text x="285.20" y="57.73" font-size="6.6" text-anchor="end" fill="#333" font-weight="normal" font-family='"Liberation Sans", sans-serif' stroke="#333" stroke-width="0.1">40</text>
<line x1="287.80" y1="43.50" x2="290.60" y2="43.50" stroke="#222" stroke-width="0.9"/>
<text x="285.20" y="45.88" font-size="6.6" text-anchor="end" fill="#333" font-weight="normal" font-family='"Liberation Sans", sans-serif' stroke="#333" stroke-width="0.1">50</text>
<line x1="298.50" y1="102.75" x2="298.50" y2="104.95" stroke="#222" stroke-width="0.9"/>
<line x1="307.50" y1="102.75" x2="307.50" y2="104.95" stroke="#222" stroke-width="0.9"/>
<line x1="316.50" y1="102.75" x2="316.50" y2="104.95" stroke="#222" stroke-width="0.9"/>
<line x1="325.50" y1="102.75" x2="325.50" y2="104.95" stroke="#222" stroke-width="0.9"/>
<line x1="335.50" y1="102.75" x2="335.50" y2="104.95" stroke="#222" stroke-width="0.9"/>
<line x1="344.50" y1="102.75" x2="344.50" y2="104.95" stroke="#222" stroke-width="0.9"/>
<line x1="353.50" y1="102.75" x2="353.50" y2="104.95" stroke="#222" stroke-width="0.9"/>
<line x1="362.50" y1="102.75" x2="362.50" y2="104.95" stroke="#222" stroke-width="0.9"/>
<line x1="371.50" y1="102.75" x2="371.50" y2="104.95" stroke="#222" stroke-width="0.9"/>
<text x="299.80" y="110.55" font-size="6.75" text-anchor="end" fill="#222" font-weight="normal" font-family='"Liberation Sans", sans-serif' transform="rotate(-45 299.80 110.55)" stroke="#222" stroke-width="0.1">Naive</text>
<text x="308.95" y="110.55" font-size="6.75" text-anchor="end" fill="#222" font-weight="normal" font-family='"Liberation Sans", sans-serif' transform="rotate(-45 308.95 110.55)" stroke="#222" stroke-width="0.1">Vehicle</text>
<text x="318.10" y="110.55" font-size="6.75" text-anchor="end" fill="#222" font-weight="normal" font-family='"Liberation Sans", sans-serif' transform="rotate(-45 318.10 110.55)" stroke="#222" stroke-width="0.1">CSP</text>
<text x="327.25" y="110.55" font-size="6.75" text-anchor="end" fill="#222" font-weight="normal" font-family='"Liberation Sans", sans-serif' transform="rotate(-45 327.25 110.55)" stroke="#222" stroke-width="0.1">Ibrutinib</text>
<text x="336.40" y="110.55" font-size="6.75" text-anchor="end" fill="#222" font-weight="normal" font-family='"Liberation Sans", sans-serif' transform="rotate(-45 336.40 110.55)" stroke="#222" stroke-width="0.1">Ruxolitinib</text>
<text x="345.55" y="110.55" font-size="6.75" text-anchor="end" fill="#222" font-weight="normal" font-family='"Liberation Sans", sans-serif' transform="rotate(-45 345.55 110.55)" stroke="#222" stroke-width="0.1">NOTCHi</text>
<text x="354.70" y="110.55" font-size="6.75" text-anchor="end" fill="#222" font-weight="normal" font-family='"Liberation Sans", sans-serif' transform="rotate(-45 354.70 110.55)" stroke="#222" stroke-width="0.1">Selumetinib</text>
<text x="363.85" y="110.55" font-size="6.75" text-anchor="end" fill="#222" font-weight="normal" font-family='"Liberation Sans", sans-serif' transform="rotate(-45 363.85 110.55)" stroke="#222" stroke-width="0.1">Sirolimus</text>
<text x="373.00" y="110.55" font-size="6.75" text-anchor="end" fill="#222" font-weight="normal" font-family='"Liberation Sans", sans-serif' transform="rotate(-45 373.00 110.55)" stroke="#222" stroke-width="0.1">PSL</text>
<line x1="307.30" y1="39.50" x2="327.90" y2="39.50" stroke="#333" stroke-width="1.0"/>
<text x="317.60" y="39.60" font-size="7.0" text-anchor="middle" fill="#222" font-weight="normal" font-family='"Liberation Sans", sans-serif' stroke-width="0">*</text>
<line x1="307.30" y1="46.50" x2="317.80" y2="46.50" stroke="#333" stroke-width="1.0"/>
<text x="312.55" y="46.90" font-size="7.0" text-anchor="middle" fill="#222" font-weight="normal" font-family='"Liberation Sans", sans-serif' stroke-width="0">**</text>
<line x1="297.50" y1="70.50" x2="307.50" y2="70.50" stroke="#333" stroke-width="1.0"/>
<text x="302.50" y="70.60" font-size="7.0" text-anchor="middle" fill="#222" font-weight="normal" font-family='"Liberation Sans", sans-serif' stroke-width="0">*</text>
<text x="335.00" y="29.10" font-size="8.6" text-anchor="middle" fill="#222" font-weight="normal" font-family='"Liberation Sans", sans-serif' stroke="#222" stroke-width="0.1">WT CD8<tspan font-size="6.19" dy="-3.10">+</tspan></text>
<text x="272.68" y="71.00" font-size="8.0" text-anchor="middle" fill="#222" font-weight="normal" font-family='"Liberation Sans", sans-serif' textLength="93.00" lengthAdjust="spacingAndGlyphs" transform="rotate(-90 272.68 71.00)" stroke="#222" stroke-width="0.05">PD-1<tspan font-size="5.76" dy="-2.88">+</tspan><tspan dy="2.88">TIGIT</tspan><tspan font-size="5.76" dy="-2.88">+</tspan><tspan dy="2.88">/CD45.1</tspan><tspan font-size="5.76" dy="-2.88">+</tspan><tspan dy="2.88">CD8</tspan><tspan font-size="5.76" dy="-2.88">+</tspan><tspan dy="2.88"> (%)</tspan></text>
<text x="264.60" y="16.20" font-size="11" text-anchor="start" fill="#111" font-weight="bold" font-family='"Liberation Sans", sans-serif' stroke="#111" stroke-width="0.35">C</text>
<rect x="424.30" y="95.00" width="6.40" height="7.50" fill="#3cab3a"/>
<line x1="427.50" y1="91.25" x2="427.50" y2="96.00" stroke="#2b7b29" stroke-width="0.9"/>
<line x1="425.70" y1="91.50" x2="429.30" y2="91.50" stroke="#2b7b29" stroke-width="0.9"/>
<circle cx="425.90" cy="93.62" r="0.75" fill="#194718"/>
<circle cx="429.10" cy="92.83" r="0.75" fill="#194718"/>
<circle cx="425.90" cy="95.60" r="0.75" fill="#194718"/>
<circle cx="429.10" cy="94.40" r="0.75" fill="#194718"/>
<circle cx="427.50" cy="97.60" r="0.75" fill="#194718"/>
<circle cx="426.50" cy="100.50" r="0.75" fill="#194718"/>
<rect x="433.66" y="76.25" width="6.40" height="26.25" fill="#4a566e"/>
<line x1="436.50" y1="66.25" x2="436.50" y2="77.25" stroke="#353d4f" stroke-width="0.9"/>
<line x1="435.06" y1="66.50" x2="438.66" y2="66.50" stroke="#353d4f" stroke-width="0.9"/>
<circle cx="435.26" cy="71.75" r="0.75" fill="#1f242e"/>
<circle cx="438.46" cy="70.95" r="0.75" fill="#1f242e"/>
<circle cx="435.26" cy="76.85" r="0.75" fill="#1f242e"/>
<circle cx="438.46" cy="75.65" r="0.75" fill="#1f242e"/>
<circle cx="436.86" cy="78.85" r="0.75" fill="#1f242e"/>
<circle cx="435.86" cy="81.75" r="0.75" fill="#1f242e"/>
<circle cx="437.86" cy="84.75" r="0.75" fill="#1f242e"/>
<rect x="443.02" y="64.00" width="6.40" height="38.50" fill="#c8102e"/>
<line x1="446.50" y1="55.50" x2="446.50" y2="65.00" stroke="#900b21" stroke-width="0.9"/>
<line x1="444.42" y1="55.50" x2="448.02" y2="55.50" stroke="#900b21" stroke-width="0.9"/>
<circle cx="444.62" cy="60.25" r="0.75" fill="#540613"/>
<circle cx="447.82" cy="59.45" r="0.75" fill="#540613"/>
<circle cx="444.62" cy="64.60" r="0.75" fill="#540613"/>
<circle cx="447.82" cy="63.40" r="0.75" fill="#540613"/>
<circle cx="446.22" cy="66.60" r="0.75" fill="#540613"/>
<circle cx="445.22" cy="69.50" r="0.75" fill="#540613"/>
<circle cx="447.22" cy="72.50" r="0.75" fill="#540613"/>
<rect x="452.38" y="58.50" width="6.40" height="44.00" fill="#c77c1e"/>
<line x1="455.50" y1="48.50" x2="455.50" y2="59.50" stroke="#8f5915" stroke-width="0.9"/>
<line x1="453.78" y1="48.50" x2="457.38" y2="48.50" stroke="#8f5915" stroke-width="0.9"/>
<circle cx="453.98" cy="54.00" r="0.75" fill="#53340c"/>
<circle cx="457.18" cy="53.20" r="0.75" fill="#53340c"/>
<circle cx="453.98" cy="59.10" r="0.75" fill="#53340c"/>
<circle cx="457.18" cy="57.90" r="0.75" fill="#53340c"/>
<circle cx="455.58" cy="61.10" r="0.75" fill="#53340c"/>
<circle cx="454.58" cy="64.00" r="0.75" fill="#53340c"/>
<circle cx="456.58" cy="67.00" r="0.75" fill="#53340c"/>
<rect x="461.74" y="90.50" width="6.40" height="12.00" fill="#f7a11a"/>
<line x1="464.50" y1="86.25" x2="464.50" y2="91.50" stroke="#b17312" stroke-width="0.9"/>
<line x1="463.14" y1="86.50" x2="466.74" y2="86.50" stroke="#b17312" stroke-width="0.9"/>
<circle cx="463.34" cy="88.88" r="0.75" fill="#67430a"/>
<circle cx="466.54" cy="88.08" r="0.75" fill="#67430a"/>
<circle cx="463.34" cy="91.10" r="0.75" fill="#67430a"/>
<circle cx="466.54" cy="89.90" r="0.75" fill="#67430a"/>
<circle cx="464.94" cy="93.10" r="0.75" fill="#67430a"/>
<circle cx="463.94" cy="96.00" r="0.75" fill="#67430a"/>
<circle cx="465.94" cy="99.00" r="0.75" fill="#67430a"/>
<circle cx="464.94" cy="80.50" r="0.75" fill="#67430a"/>
<rect x="471.10" y="89.00" width="6.40" height="13.50" fill="#2fa8e0"/>
<line x1="474.50" y1="83.75" x2="474.50" y2="90.00" stroke="#2178a1" stroke-width="0.9"/>
<line x1="472.50" y1="83.50" x2="476.10" y2="83.50" stroke="#2178a1" stroke-width="0.9"/>
<circle cx="472.70" cy="86.88" r="0.75" fill="#13465e"/>
<circle cx="475.90" cy="86.08" r="0.75" fill="#13465e"/>
<circle cx="472.70" cy="89.60" r="0.75" fill="#13465e"/>
<circle cx="475.90" cy="88.40" r="0.75" fill="#13465e"/>
<circle cx="474.30" cy="91.60" r="0.75" fill="#13465e"/>
<circle cx="473.30" cy="94.50" r="0.75" fill="#13465e"/>
<circle cx="475.30" cy="97.50" r="0.75" fill="#13465e"/>
<rect x="480.46" y="83.75" width="6.40" height="18.75" fill="#6a2a7a"/>
<line x1="483.50" y1="71.50" x2="483.50" y2="84.75" stroke="#4c1e57" stroke-width="0.9"/>
<line x1="481.86" y1="71.50" x2="485.46" y2="71.50" stroke="#4c1e57" stroke-width="0.9"/>
<circle cx="482.06" cy="78.12" r="0.75" fill="#2c1133"/>
<circle cx="485.26" cy="77.33" r="0.75" fill="#2c1133"/>
<circle cx="482.06" cy="84.35" r="0.75" fill="#2c1133"/>
<circle cx="485.26" cy="83.15" r="0.75" fill="#2c1133"/>
<circle cx="483.66" cy="86.35" r="0.75" fill="#2c1133"/>
<circle cx="482.66" cy="89.25" r="0.75" fill="#2c1133"/>
<circle cx="484.66" cy="92.25" r="0.75" fill="#2c1133"/>
<rect x="489.82" y="90.00" width="6.40" height="12.50" fill="#e5167f"/>
<line x1="493.50" y1="81.50" x2="493.50" y2="91.00" stroke="#a40f5b" stroke-width="0.9"/>
<line x1="491.22" y1="81.50" x2="494.82" y2="81.50" stroke="#a40f5b" stroke-width="0.9"/>
<circle cx="491.42" cy="86.25" r="0.75" fill="#600935"/>
<circle cx="494.62" cy="85.45" r="0.75" fill="#600935"/>
<circle cx="491.42" cy="90.60" r="0.75" fill="#600935"/>
<circle cx="494.62" cy="89.40" r="0.75" fill="#600935"/>
<circle cx="493.02" cy="92.60" r="0.75" fill="#600935"/>
<circle cx="492.02" cy="95.50" r="0.75" fill="#600935"/>
<circle cx="494.02" cy="98.50" r="0.75" fill="#600935"/>
<rect x="499.18" y="88.00" width="6.40" height="14.50" fill="#0f7250"/>
<line x1="502.50" y1="79.50" x2="502.50" y2="89.00" stroke="#0a5239" stroke-width="0.9"/>
<line x1="500.58" y1="79.50" x2="504.18" y2="79.50" stroke="#0a5239" stroke-width="0.9"/>
<circle cx="500.78" cy="84.25" r="0.75" fill="#062f21"/>
<circle cx="503.98" cy="83.45" r="0.75" fill="#062f21"/>
<circle cx="500.78" cy="88.60" r="0.75" fill="#062f21"/>
<circle cx="503.98" cy="87.40" r="0.75" fill="#062f21"/>
<circle cx="502.38" cy="90.60" r="0.75" fill="#062f21"/>
<circle cx="501.38" cy="93.50" r="0.75" fill="#062f21"/>
<circle cx="503.38" cy="96.50" r="0.75" fill="#062f21"/>
<circle cx="502.38" cy="74.50" r="0.75" fill="#062f21"/>
<line x1="420.50" y1="40.25" x2="420.50" y2="102.50" stroke="#222" stroke-width="1.0"/>
<line x1="419.50" y1="102.50" x2="510.00" y2="102.50" stroke="#222" stroke-width="1.0"/>
<line x1="417.20" y1="102.50" x2="420.00" y2="102.50" stroke="#222" stroke-width="0.9"/>
<text x="414.60" y="104.88" font-size="6.6" text-anchor="end" fill="#333" font-weight="normal" font-family='"Liberation Sans", sans-serif' stroke="#333" stroke-width="0.1">0</text>
<line x1="417.20" y1="92.50" x2="420.00" y2="92.50" stroke="#222" stroke-width="0.9"/>
<text x="414.60" y="94.88" font-size="6.6" text-anchor="end" fill="#333" font-weight="normal" font-family='"Liberation Sans", sans-serif' stroke="#333" stroke-width="0.1">2</text>
<line x1="417.20" y1="82.50" x2="420.00" y2="82.50" stroke="#222" stroke-width="0.9"/>
<text x="414.60" y="84.88" font-size="6.6" text-anchor="end" fill="#333" font-weight="normal" font-family='"Liberation Sans", sans-serif' stroke="#333" stroke-width="0.1">4</text>
<line x1="417.20" y1="72.50" x2="420.00" y2="72.50" stroke="#222" stroke-width="0.9"/>
<text x="414.60" y="74.88" font-size="6.6" text-anchor="end" fill="#333" font-weight="normal" font-family='"Liberation Sans", sans-serif' stroke="#333" stroke-width="0.1">6</text>
<line x1="417.20" y1="62.50" x2="420.00" y2="62.50" stroke="#222" stroke-width="0.9"/>
<text x="414.60" y="64.88" font-size="6.6" text-anchor="end" fill="#333" font-weight="normal" font-family='"Liberation Sans", sans-serif' stroke="#333" stroke-width="0.1">8</text>
<line x1="417.20" y1="52.50" x2="420.00" y2="52.50" stroke="#222" stroke-width="0.9"/>
<text x="414.60" y="54.88" font-size="6.6" text-anchor="end" fill="#333" font-weight="normal" font-family='"Liberation Sans", sans-serif' stroke="#333" stroke-width="0.1">10</text>
<line x1="417.20" y1="42.50" x2="420.00" y2="42.50" stroke="#222" stroke-width="0.9"/>
<text x="414.60" y="44.88" font-size="6.6" text-anchor="end" fill="#333" font-weight="normal" font-family='"Liberation Sans", sans-serif' stroke="#333" stroke-width="0.1">12</text>
<line x1="427.50" y1="102.50" x2="427.50" y2="104.70" stroke="#222" stroke-width="0.9"/>
<line x1="436.50" y1="102.50" x2="436.50" y2="104.70" stroke="#222" stroke-width="0.9"/>
<line x1="446.50" y1="102.50" x2="446.50" y2="104.70" stroke="#222" stroke-width="0.9"/>
<line x1="455.50" y1="102.50" x2="455.50" y2="104.70" stroke="#222" stroke-width="0.9"/>
<line x1="464.50" y1="102.50" x2="464.50" y2="104.70" stroke="#222" stroke-width="0.9"/>
<line x1="474.50" y1="102.50" x2="474.50" y2="104.70" stroke="#222" stroke-width="0.9"/>
<line x1="483.50" y1="102.50" x2="483.50" y2="104.70" stroke="#222" stroke-width="0.9"/>
<line x1="493.50" y1="102.50" x2="493.50" y2="104.70" stroke="#222" stroke-width="0.9"/>
<line x1="502.50" y1="102.50" x2="502.50" y2="104.70" stroke="#222" stroke-width="0.9"/>
<text x="430.70" y="110.30" font-size="6.75" text-anchor="end" fill="#222" font-weight="normal" font-family='"Liberation Sans", sans-serif' transform="rotate(-45 430.70 110.30)" stroke="#222" stroke-width="0.1">Naive</text>
<text x="440.06" y="110.30" font-size="6.75" text-anchor="end" fill="#222" font-weight="normal" font-family='"Liberation Sans", sans-serif' transform="rotate(-45 440.06 110.30)" stroke="#222" stroke-width="0.1">Vehicle</text>
<text x="449.42" y="110.30" font-size="6.75" text-anchor="end" fill="#222" font-weight="normal" font-family='"Liberation Sans", sans-serif' transform="rotate(-45 449.42 110.30)" stroke="#222" stroke-width="0.1">CSP</text>
<text x="458.78" y="110.30" font-size="6.75" text-anchor="end" fill="#222" font-weight="normal" font-family='"Liberation Sans", sans-serif' transform="rotate(-45 458.78 110.30)" stroke="#222" stroke-width="0.1">Ibrutinib</text>
<text x="468.14" y="110.30" font-size="6.75" text-anchor="end" fill="#222" font-weight="normal" font-family='"Liberation Sans", sans-serif' transform="rotate(-45 468.14 110.30)" stroke="#222" stroke-width="0.1">Ruxolitinib</text>
<text x="477.50" y="110.30" font-size="6.75" text-anchor="end" fill="#222" font-weight="normal" font-family='"Liberation Sans", sans-serif' transform="rotate(-45 477.50 110.30)" stroke="#222" stroke-width="0.1">NOTCHi</text>
<text x="486.86" y="110.30" font-size="6.75" text-anchor="end" fill="#222" font-weight="normal" font-family='"Liberation Sans", sans-serif' transform="rotate(-45 486.86 110.30)" stroke="#222" stroke-width="0.1">Selumetinib</text>
<text x="496.22" y="110.30" font-size="6.75" text-anchor="end" fill="#222" font-weight="normal" font-family='"Liberation Sans", sans-serif' transform="rotate(-45 496.22 110.30)" stroke="#222" stroke-width="0.1">Sirolimus</text>
<text x="505.58" y="110.30" font-size="6.75" text-anchor="end" fill="#222" font-weight="normal" font-family='"Liberation Sans", sans-serif' transform="rotate(-45 505.58 110.30)" stroke="#222" stroke-width="0.1">PSL</text>
<line x1="436.50" y1="40.50" x2="455.60" y2="40.50" stroke="#333" stroke-width="1.0"/>
<text x="446.05" y="40.25" font-size="7.0" text-anchor="middle" fill="#222" font-weight="normal" font-family='"Liberation Sans", sans-serif' stroke-width="0">*</text>
<line x1="436.50" y1="48.50" x2="446.00" y2="48.50" stroke="#333" stroke-width="1.0"/>
<text x="441.25" y="48.10" font-size="7.0" text-anchor="middle" fill="#222" font-weight="normal" font-family='"Liberation Sans", sans-serif' stroke-width="0">*</text>
<line x1="426.30" y1="62.50" x2="436.30" y2="62.50" stroke="#333" stroke-width="1.0"/>
<text x="431.30" y="62.25" font-size="7.0" text-anchor="middle" fill="#222" font-weight="normal" font-family='"Liberation Sans", sans-serif' stroke-width="0">*</text>
<text x="465.00" y="29.10" font-size="8.6" text-anchor="middle" fill="#222" font-weight="normal" font-family='"Liberation Sans", sans-serif' stroke="#222" stroke-width="0.1">WT CD8<tspan font-size="6.19" dy="-3.10">+</tspan></text>
<text x="401.98" y="70.70" font-size="8.0" text-anchor="middle" fill="#222" font-weight="normal" font-family='"Liberation Sans", sans-serif' textLength="94.00" lengthAdjust="spacingAndGlyphs" transform="rotate(-90 401.98 70.70)" stroke="#222" stroke-width="0.05">No. of PD-1<tspan font-size="5.76" dy="-2.88">+</tspan><tspan dy="2.88">TIGIT</tspan><tspan font-size="5.76" dy="-2.88">+</tspan><tspan dy="2.88"> T cells (×10</tspan><tspan font-size="5.76" dy="-2.88">3</tspan><tspan dy="2.88">)</tspan></text>
<text x="393.60" y="16.20" font-size="11" text-anchor="start" fill="#111" font-weight="bold" font-family='"Liberation Sans", sans-serif' stroke="#111" stroke-width="0.35">D</text>
<rect x="94.50" y="192.36" width="6.00" height="48.44" fill="#a5aabb"/>
<line x1="97.50" y1="181.51" x2="97.50" y2="203.20" stroke="#4a566e" stroke-width="0.9"/>
<line x1="95.50" y1="181.50" x2="99.50" y2="181.50" stroke="#4a566e" stroke-width="0.9"/>
<circle cx="97.50" cy="176.94" r="1.3" fill="#4a566e"/>
<circle cx="97.50" cy="180.55" r="1.3" fill="#4a566e"/>
<circle cx="97.50" cy="192.36" r="1.3" fill="#4a566e"/>
<circle cx="97.50" cy="195.97" r="1.3" fill="#4a566e"/>
<circle cx="97.50" cy="200.79" r="1.3" fill="#4a566e"/>
<circle cx="97.50" cy="208.51" r="1.3" fill="#4a566e"/>
<rect x="104.90" y="214.29" width="6.00" height="26.51" fill="#f3caa2"/>
<line x1="107.50" y1="204.17" x2="107.50" y2="224.41" stroke="#c77c1e" stroke-width="0.9"/>
<line x1="105.90" y1="204.50" x2="109.90" y2="204.50" stroke="#c77c1e" stroke-width="0.9"/>
<circle cx="105.60" cy="204.17" r="1.3" fill="#c77c1e"/>
<circle cx="110.20" cy="203.69" r="1.3" fill="#c77c1e"/>
<circle cx="107.90" cy="208.51" r="1.3" fill="#c77c1e"/>
<circle cx="107.90" cy="212.60" r="1.3" fill="#c77c1e"/>
<circle cx="110.20" cy="222.00" r="1.3" fill="#c77c1e"/>
<circle cx="106.10" cy="224.41" r="1.3" fill="#c77c1e"/>
<rect x="123.20" y="191.15" width="6.00" height="49.65" fill="#a5aabb"/>
<line x1="126.50" y1="182.96" x2="126.50" y2="199.35" stroke="#4a566e" stroke-width="0.9"/>
<line x1="124.20" y1="182.50" x2="128.20" y2="182.50" stroke="#4a566e" stroke-width="0.9"/>
<circle cx="126.20" cy="176.94" r="1.3" fill="#4a566e"/>
<circle cx="123.90" cy="187.30" r="1.3" fill="#4a566e"/>
<circle cx="128.20" cy="188.99" r="1.3" fill="#4a566e"/>
<circle cx="124.40" cy="195.01" r="1.3" fill="#4a566e"/>
<circle cx="128.20" cy="195.49" r="1.3" fill="#4a566e"/>
<circle cx="126.20" cy="198.38" r="1.3" fill="#4a566e"/>
<rect x="134.00" y="212.12" width="6.00" height="28.68" fill="#f3caa2"/>
<line x1="137.50" y1="195.97" x2="137.50" y2="228.27" stroke="#c77c1e" stroke-width="0.9"/>
<line x1="135.00" y1="195.50" x2="139.00" y2="195.50" stroke="#c77c1e" stroke-width="0.9"/>
<circle cx="137.00" cy="195.97" r="1.3" fill="#c77c1e"/>
<circle cx="137.00" cy="201.28" r="1.3" fill="#c77c1e"/>
<circle cx="135.00" cy="215.98" r="1.3" fill="#c77c1e"/>
<circle cx="139.00" cy="215.98" r="1.3" fill="#c77c1e"/>
<circle cx="135.00" cy="220.80" r="1.3" fill="#c77c1e"/>
<circle cx="139.00" cy="220.80" r="1.3" fill="#c77c1e"/>
<line x1="90.50" y1="166.00" x2="90.50" y2="240.80" stroke="#222" stroke-width="1.0"/>
<line x1="89.90" y1="240.50" x2="144.00" y2="240.50" stroke="#222" stroke-width="1.0"/>
<line x1="87.40" y1="240.50" x2="90.40" y2="240.50" stroke="#222" stroke-width="0.9"/>
<text x="84.40" y="243.18" font-size="6.6" text-anchor="end" fill="#333" font-weight="normal" font-family='"Liberation Sans", sans-serif' stroke="#333" stroke-width="0.1">0</text>
<line x1="87.40" y1="228.50" x2="90.40" y2="228.50" stroke="#222" stroke-width="0.9"/>
<text x="84.40" y="231.13" font-size="6.6" text-anchor="end" fill="#333" font-weight="normal" font-family='"Liberation Sans", sans-serif' stroke="#333" stroke-width="0.1">5</text>
<line x1="87.40" y1="216.50" x2="90.40" y2="216.50" stroke="#222" stroke-width="0.9"/>
<text x="84.40" y="219.08" font-size="6.6" text-anchor="end" fill="#333" font-weight="normal" font-family='"Liberation Sans", sans-serif' stroke="#333" stroke-width="0.1">10</text>
<line x1="87.40" y1="204.50" x2="90.40" y2="204.50" stroke="#222" stroke-width="0.9"/>
<text x="84.40" y="207.03" font-size="6.6" text-anchor="end" fill="#333" font-weight="normal" font-family='"Liberation Sans", sans-serif' stroke="#333" stroke-width="0.1">15</text>
<line x1="87.40" y1="192.50" x2="90.40" y2="192.50" stroke="#222" stroke-width="0.9"/>
<text x="84.40" y="194.98" font-size="6.6" text-anchor="end" fill="#333" font-weight="normal" font-family='"Liberation Sans", sans-serif' stroke="#333" stroke-width="0.1">20</text>
<line x1="87.40" y1="180.50" x2="90.40" y2="180.50" stroke="#222" stroke-width="0.9"/>
<text x="84.40" y="182.93" font-size="6.6" text-anchor="end" fill="#333" font-weight="normal" font-family='"Liberation Sans", sans-serif' stroke="#333" stroke-width="0.1">25</text>
<line x1="87.40" y1="168.50" x2="90.40" y2="168.50" stroke="#222" stroke-width="0.9"/>
<text x="84.40" y="170.88" font-size="6.6" text-anchor="end" fill="#333" font-weight="normal" font-family='"Liberation Sans", sans-serif' stroke="#333" stroke-width="0.1">30</text>
<line x1="102.50" y1="240.80" x2="102.50" y2="243.20" stroke="#222" stroke-width="0.9"/>
<line x1="131.50" y1="240.80" x2="131.50" y2="243.20" stroke="#222" stroke-width="0.9"/>
<text x="102.40" y="252.60" font-size="6.6" text-anchor="middle" fill="#333" font-weight="normal" font-family='"Liberation Sans", sans-serif' stroke="#333" stroke-width="0.1">14</text>
<text x="131.50" y="252.60" font-size="6.6" text-anchor="middle" fill="#333" font-weight="normal" font-family='"Liberation Sans", sans-serif' stroke="#333" stroke-width="0.1">28</text>
<text x="78.40" y="252.60" font-size="6.6" text-anchor="middle" fill="#333" font-weight="normal" font-family='"Liberation Sans", sans-serif' stroke="#333" stroke-width="0.1">Day</text>
<line x1="97.50" y1="172.50" x2="107.90" y2="172.50" stroke="#333" stroke-width="1.0"/>
<text x="102.70" y="172.20" font-size="7.0" text-anchor="middle" fill="#222" font-weight="normal" font-family='"Liberation Sans", sans-serif' stroke-width="0">**</text>
<line x1="126.00" y1="172.50" x2="136.00" y2="172.50" stroke="#333" stroke-width="1.0"/>
<text x="131.00" y="172.10" font-size="7.0" text-anchor="middle" fill="#222" font-weight="normal" font-family='"Liberation Sans", sans-serif' stroke-width="0">**</text>
<text x="62.14" y="205.30" font-size="7.6" text-anchor="middle" fill="#222" font-weight="normal" font-family='"Liberation Sans", sans-serif' textLength="53.00" lengthAdjust="spacingAndGlyphs" transform="rotate(-90 62.14 205.30)" stroke="#222" stroke-width="0.22">No. of PD-1<tspan font-size="5.47" dy="-2.74">+</tspan><tspan dy="2.74">TIGIT</tspan><tspan font-size="5.47" dy="-2.74">+</tspan></text>
<text x="71.24" y="202.50" font-size="7.6" text-anchor="middle" fill="#222" font-weight="normal" font-family='"Liberation Sans", sans-serif' textLength="40.50" lengthAdjust="spacingAndGlyphs" transform="rotate(-90 71.24 202.50)" stroke="#222" stroke-width="0.22">T cells (×10<tspan font-size="5.47" dy="-2.74">3</tspan><tspan dy="2.74">)</tspan></text>
<text x="59.60" y="159.20" font-size="11" text-anchor="start" fill="#111" font-weight="bold" font-family='"Liberation Sans", sans-serif' stroke="#111" stroke-width="0.35">E</text>
<text x="47.40" y="203.00" font-size="8.6" text-anchor="middle" fill="#222" font-weight="normal" font-family='"Liberation Sans", sans-serif' textLength="23.50" lengthAdjust="spacingAndGlyphs" transform="rotate(-90 47.40 203.00)" stroke="#222" stroke-width="0">2C-Tg</text>
<rect x="201.90" y="231.82" width="6.00" height="9.18" fill="#a5aabb"/>
<line x1="204.50" y1="220.71" x2="204.50" y2="240.50" stroke="#4a566e" stroke-width="0.9"/>
<line x1="202.90" y1="220.50" x2="206.90" y2="220.50" stroke="#4a566e" stroke-width="0.9"/>
<circle cx="204.90" cy="220.71" r="1.3" fill="#4a566e"/>
<circle cx="202.60" cy="224.58" r="1.3" fill="#4a566e"/>
<circle cx="207.20" cy="225.54" r="1.3" fill="#4a566e"/>
<circle cx="202.60" cy="227.96" r="1.3" fill="#4a566e"/>
<circle cx="207.20" cy="228.68" r="1.3" fill="#4a566e"/>
<circle cx="202.60" cy="232.31" r="1.3" fill="#4a566e"/>
<rect x="212.80" y="202.84" width="6.00" height="38.16" fill="#f3caa2"/>
<line x1="215.50" y1="193.18" x2="215.50" y2="212.50" stroke="#c77c1e" stroke-width="0.9"/>
<line x1="213.80" y1="193.50" x2="217.80" y2="193.50" stroke="#c77c1e" stroke-width="0.9"/>
<circle cx="213.30" cy="193.18" r="1.3" fill="#c77c1e"/>
<circle cx="218.10" cy="191.25" r="1.3" fill="#c77c1e"/>
<circle cx="215.80" cy="198.01" r="1.3" fill="#c77c1e"/>
<circle cx="215.80" cy="204.78" r="1.3" fill="#c77c1e"/>
<circle cx="215.80" cy="208.64" r="1.3" fill="#c77c1e"/>
<circle cx="215.80" cy="211.54" r="1.3" fill="#c77c1e"/>
<circle cx="215.80" cy="215.88" r="1.3" fill="#c77c1e"/>
<rect x="229.90" y="231.82" width="6.00" height="9.18" fill="#a5aabb"/>
<line x1="232.50" y1="226.03" x2="232.50" y2="237.62" stroke="#4a566e" stroke-width="0.9"/>
<line x1="230.90" y1="226.50" x2="234.90" y2="226.50" stroke="#4a566e" stroke-width="0.9"/>
<circle cx="231.40" cy="225.54" r="1.3" fill="#4a566e"/>
<circle cx="234.10" cy="226.03" r="1.3" fill="#4a566e"/>
<circle cx="233.40" cy="229.89" r="1.3" fill="#4a566e"/>
<circle cx="235.60" cy="230.86" r="1.3" fill="#4a566e"/>
<circle cx="231.90" cy="233.27" r="1.3" fill="#4a566e"/>
<circle cx="234.40" cy="234.48" r="1.3" fill="#4a566e"/>
<rect x="241.60" y="200.43" width="6.00" height="40.57" fill="#f3caa2"/>
<line x1="244.50" y1="186.90" x2="244.50" y2="213.95" stroke="#c77c1e" stroke-width="0.9"/>
<line x1="242.60" y1="186.50" x2="246.60" y2="186.50" stroke="#c77c1e" stroke-width="0.9"/>
<circle cx="244.60" cy="186.90" r="1.3" fill="#c77c1e"/>
<circle cx="244.60" cy="190.77" r="1.3" fill="#c77c1e"/>
<circle cx="244.60" cy="198.01" r="1.3" fill="#c77c1e"/>
<circle cx="244.60" cy="204.78" r="1.3" fill="#c77c1e"/>
<circle cx="242.40" cy="209.60" r="1.3" fill="#c77c1e"/>
<circle cx="246.80" cy="209.60" r="1.3" fill="#c77c1e"/>
<line x1="198.50" y1="165.60" x2="198.50" y2="241.00" stroke="#222" stroke-width="1.0"/>
<line x1="197.50" y1="241.50" x2="251.00" y2="241.50" stroke="#222" stroke-width="1.0"/>
<line x1="195.00" y1="241.50" x2="198.00" y2="241.50" stroke="#222" stroke-width="0.9"/>
<text x="192.00" y="243.38" font-size="6.6" text-anchor="end" fill="#333" font-weight="normal" font-family='"Liberation Sans", sans-serif' stroke="#333" stroke-width="0.1">0</text>
<line x1="195.00" y1="216.50" x2="198.00" y2="216.50" stroke="#222" stroke-width="0.9"/>
<text x="192.00" y="219.23" font-size="6.6" text-anchor="end" fill="#333" font-weight="normal" font-family='"Liberation Sans", sans-serif' stroke="#333" stroke-width="0.1">5</text>
<line x1="195.00" y1="192.50" x2="198.00" y2="192.50" stroke="#222" stroke-width="0.9"/>
<text x="192.00" y="195.08" font-size="6.6" text-anchor="end" fill="#333" font-weight="normal" font-family='"Liberation Sans", sans-serif' stroke="#333" stroke-width="0.1">10</text>
<line x1="195.00" y1="168.50" x2="198.00" y2="168.50" stroke="#222" stroke-width="0.9"/>
<text x="192.00" y="170.93" font-size="6.6" text-anchor="end" fill="#333" font-weight="normal" font-family='"Liberation Sans", sans-serif' stroke="#333" stroke-width="0.1">15</text>
<line x1="210.50" y1="241.00" x2="210.50" y2="243.40" stroke="#222" stroke-width="0.9"/>
<line x1="239.50" y1="241.00" x2="239.50" y2="243.40" stroke="#222" stroke-width="0.9"/>
<text x="210.40" y="252.80" font-size="6.6" text-anchor="middle" fill="#333" font-weight="normal" font-family='"Liberation Sans", sans-serif' stroke="#333" stroke-width="0.1">14</text>
<text x="239.00" y="252.80" font-size="6.6" text-anchor="middle" fill="#333" font-weight="normal" font-family='"Liberation Sans", sans-serif' stroke="#333" stroke-width="0.1">28</text>
<text x="186.00" y="252.80" font-size="6.6" text-anchor="middle" fill="#333" font-weight="normal" font-family='"Liberation Sans", sans-serif' stroke="#333" stroke-width="0.1">Day</text>
<line x1="205.30" y1="184.50" x2="216.00" y2="184.50" stroke="#333" stroke-width="1.0"/>
<text x="210.65" y="184.40" font-size="7.0" text-anchor="middle" fill="#222" font-weight="normal" font-family='"Liberation Sans", sans-serif' stroke-width="0">**</text>
<line x1="233.10" y1="182.50" x2="243.80" y2="182.50" stroke="#333" stroke-width="1.0"/>
<text x="238.45" y="182.50" font-size="7.0" text-anchor="middle" fill="#222" font-weight="normal" font-family='"Liberation Sans", sans-serif' stroke-width="0">**</text>
<text x="169.84" y="204.00" font-size="7.6" text-anchor="middle" fill="#222" font-weight="normal" font-family='"Liberation Sans", sans-serif' textLength="53.70" lengthAdjust="spacingAndGlyphs" transform="rotate(-90 169.84 204.00)" stroke="#222" stroke-width="0.22">No. of PD-1<tspan font-size="5.47" dy="-2.74">+</tspan><tspan dy="2.74">TIGIT</tspan><tspan font-size="5.47" dy="-2.74">−</tspan></text>
<text x="179.14" y="202.50" font-size="7.6" text-anchor="middle" fill="#222" font-weight="normal" font-family='"Liberation Sans", sans-serif' textLength="40.50" lengthAdjust="spacingAndGlyphs" transform="rotate(-90 179.14 202.50)" stroke="#222" stroke-width="0.22">T cells (×10<tspan font-size="5.47" dy="-2.74">3</tspan><tspan dy="2.74">)</tspan></text>
<text x="167.00" y="159.40" font-size="11" text-anchor="start" fill="#111" font-weight="bold" font-family='"Liberation Sans", sans-serif' stroke="#111" stroke-width="0.35">F</text>
<rect x="300.20" y="211.32" width="6.00" height="29.68" fill="#a5aabb"/>
<line x1="303.50" y1="207.40" x2="303.50" y2="215.24" stroke="#4a566e" stroke-width="0.9"/>
<line x1="301.20" y1="207.50" x2="305.20" y2="207.50" stroke="#4a566e" stroke-width="0.9"/>
<circle cx="303.20" cy="204.60" r="1.3" fill="#4a566e"/>
<circle cx="301.20" cy="211.32" r="1.3" fill="#4a566e"/>
<circle cx="305.40" cy="211.88" r="1.3" fill="#4a566e"/>
<circle cx="303.20" cy="218.04" r="1.3" fill="#4a566e"/>
<rect x="311.20" y="214.96" width="6.00" height="26.04" fill="#f3caa2"/>
<line x1="314.50" y1="210.76" x2="314.50" y2="219.16" stroke="#c77c1e" stroke-width="0.9"/>
<line x1="312.20" y1="210.50" x2="316.20" y2="210.50" stroke="#c77c1e" stroke-width="0.9"/>
<circle cx="314.20" cy="210.76" r="1.3" fill="#c77c1e"/>
<circle cx="311.90" cy="215.24" r="1.3" fill="#c77c1e"/>
<circle cx="316.10" cy="216.36" r="1.3" fill="#c77c1e"/>
<circle cx="314.20" cy="218.60" r="1.3" fill="#c77c1e"/>
<circle cx="314.20" cy="223.92" r="1.3" fill="#c77c1e"/>
<rect x="329.00" y="193.12" width="6.00" height="47.88" fill="#a5aabb"/>
<line x1="332.50" y1="188.36" x2="332.50" y2="197.88" stroke="#4a566e" stroke-width="0.9"/>
<line x1="330.00" y1="188.50" x2="334.00" y2="188.50" stroke="#4a566e" stroke-width="0.9"/>
<circle cx="329.70" cy="187.80" r="1.3" fill="#4a566e"/>
<circle cx="334.20" cy="188.92" r="1.3" fill="#4a566e"/>
<circle cx="329.70" cy="193.12" r="1.3" fill="#4a566e"/>
<circle cx="334.20" cy="193.12" r="1.3" fill="#4a566e"/>
<circle cx="332.00" cy="197.32" r="1.3" fill="#4a566e"/>
<circle cx="332.00" cy="200.12" r="1.3" fill="#4a566e"/>
<rect x="339.60" y="203.76" width="6.00" height="37.24" fill="#f3caa2"/>
<line x1="342.50" y1="192.28" x2="342.50" y2="215.24" stroke="#c77c1e" stroke-width="0.9"/>
<line x1="340.60" y1="192.50" x2="344.60" y2="192.50" stroke="#c77c1e" stroke-width="0.9"/>
<circle cx="342.60" cy="192.28" r="1.3" fill="#c77c1e"/>
<circle cx="342.60" cy="197.88" r="1.3" fill="#c77c1e"/>
<circle cx="342.60" cy="202.64" r="1.3" fill="#c77c1e"/>
<circle cx="342.60" cy="206.84" r="1.3" fill="#c77c1e"/>
<circle cx="342.60" cy="216.36" r="1.3" fill="#c77c1e"/>
<line x1="295.50" y1="170.60" x2="295.50" y2="241.00" stroke="#222" stroke-width="1.0"/>
<line x1="294.90" y1="241.50" x2="349.00" y2="241.50" stroke="#222" stroke-width="1.0"/>
<line x1="292.40" y1="241.50" x2="295.40" y2="241.50" stroke="#222" stroke-width="0.9"/>
<text x="289.40" y="243.38" font-size="6.6" text-anchor="end" fill="#333" font-weight="normal" font-family='"Liberation Sans", sans-serif' stroke="#333" stroke-width="0.1">0</text>
<line x1="292.40" y1="229.50" x2="295.40" y2="229.50" stroke="#222" stroke-width="0.9"/>
<text x="289.40" y="232.18" font-size="6.6" text-anchor="end" fill="#333" font-weight="normal" font-family='"Liberation Sans", sans-serif' stroke="#333" stroke-width="0.1">2</text>
<line x1="292.40" y1="218.50" x2="295.40" y2="218.50" stroke="#222" stroke-width="0.9"/>
<text x="289.40" y="220.98" font-size="6.6" text-anchor="end" fill="#333" font-weight="normal" font-family='"Liberation Sans", sans-serif' stroke="#333" stroke-width="0.1">4</text>
<line x1="292.40" y1="207.50" x2="295.40" y2="207.50" stroke="#222" stroke-width="0.9"/>
<text x="289.40" y="209.78" font-size="6.6" text-anchor="end" fill="#333" font-weight="normal" font-family='"Liberation Sans", sans-serif' stroke="#333" stroke-width="0.1">6</text>
<line x1="292.40" y1="196.50" x2="295.40" y2="196.50" stroke="#222" stroke-width="0.9"/>
<text x="289.40" y="198.58" font-size="6.6" text-anchor="end" fill="#333" font-weight="normal" font-family='"Liberation Sans", sans-serif' stroke="#333" stroke-width="0.1">8</text>
<line x1="292.40" y1="185.50" x2="295.40" y2="185.50" stroke="#222" stroke-width="0.9"/>
<text x="289.40" y="187.38" font-size="6.6" text-anchor="end" fill="#333" font-weight="normal" font-family='"Liberation Sans", sans-serif' stroke="#333" stroke-width="0.1">10</text>
<line x1="292.40" y1="173.50" x2="295.40" y2="173.50" stroke="#222" stroke-width="0.9"/>
<text x="289.40" y="176.18" font-size="6.6" text-anchor="end" fill="#333" font-weight="normal" font-family='"Liberation Sans", sans-serif' stroke="#333" stroke-width="0.1">12</text>
<line x1="308.50" y1="241.00" x2="308.50" y2="243.40" stroke="#222" stroke-width="0.9"/>
<line x1="337.50" y1="241.00" x2="337.50" y2="243.40" stroke="#222" stroke-width="0.9"/>
<text x="308.30" y="252.80" font-size="6.6" text-anchor="middle" fill="#333" font-weight="normal" font-family='"Liberation Sans", sans-serif' stroke="#333" stroke-width="0.1">14</text>
<text x="337.70" y="252.80" font-size="6.6" text-anchor="middle" fill="#333" font-weight="normal" font-family='"Liberation Sans", sans-serif' stroke="#333" stroke-width="0.1">28</text>
<text x="283.40" y="252.80" font-size="6.6" text-anchor="middle" fill="#333" font-weight="normal" font-family='"Liberation Sans", sans-serif' stroke="#333" stroke-width="0.1">Day</text>
<line x1="303.50" y1="197.50" x2="316.00" y2="197.50" stroke="#333" stroke-width="1.0"/>
<text x="309.75" y="197.40" font-size="7.0" text-anchor="middle" fill="#222" font-weight="normal" font-family='"Liberation Sans", sans-serif' stroke-width="0">*</text>
<line x1="332.80" y1="179.50" x2="343.50" y2="179.50" stroke="#333" stroke-width="1.0"/>
<text x="338.15" y="179.40" font-size="7.0" text-anchor="middle" fill="#222" font-weight="normal" font-family='"Liberation Sans", sans-serif' stroke-width="0">*</text>
<text x="278.24" y="204.80" font-size="7.6" text-anchor="middle" fill="#222" font-weight="normal" font-family='"Liberation Sans", sans-serif' textLength="48.60" lengthAdjust="spacingAndGlyphs" transform="rotate(-90 278.24 204.80)" stroke="#222" stroke-width="0.22">TOX MFI (×10<tspan font-size="5.47" dy="-2.74">3</tspan><tspan dy="2.74">)</tspan></text>
<text x="268.20" y="159.40" font-size="11" text-anchor="start" fill="#111" font-weight="bold" font-family='"Liberation Sans", sans-serif' stroke="#111" stroke-width="0.35">G</text>
<rect x="403.90" y="213.14" width="6.00" height="27.46" fill="#a5aabb"/>
<line x1="406.50" y1="203.99" x2="406.50" y2="222.29" stroke="#4a566e" stroke-width="0.9"/>
<line x1="404.90" y1="203.50" x2="408.90" y2="203.50" stroke="#4a566e" stroke-width="0.9"/>
<circle cx="406.90" cy="203.99" r="1.3" fill="#4a566e"/>
<circle cx="406.90" cy="208.06" r="1.3" fill="#4a566e"/>
<circle cx="406.90" cy="211.62" r="1.3" fill="#4a566e"/>
<circle cx="404.80" cy="215.17" r="1.3" fill="#4a566e"/>
<circle cx="409.00" cy="215.17" r="1.3" fill="#4a566e"/>
<circle cx="404.30" cy="217.51" r="1.3" fill="#4a566e"/>
<circle cx="409.50" cy="217.51" r="1.3" fill="#4a566e"/>
<rect x="414.10" y="188.73" width="6.00" height="51.87" fill="#f3caa2"/>
<line x1="417.50" y1="184.16" x2="417.50" y2="193.31" stroke="#c77c1e" stroke-width="0.9"/>
<line x1="415.10" y1="184.50" x2="419.10" y2="184.50" stroke="#c77c1e" stroke-width="0.9"/>
<circle cx="417.90" cy="184.16" r="1.3" fill="#c77c1e"/>
<circle cx="418.90" cy="186.70" r="1.3" fill="#c77c1e"/>
<circle cx="415.30" cy="189.75" r="1.3" fill="#c77c1e"/>
<circle cx="418.90" cy="189.75" r="1.3" fill="#c77c1e"/>
<circle cx="414.80" cy="197.38" r="1.3" fill="#c77c1e"/>
<circle cx="418.80" cy="197.38" r="1.3" fill="#c77c1e"/>
<rect x="432.40" y="214.16" width="6.00" height="26.44" fill="#a5aabb"/>
<line x1="435.50" y1="208.06" x2="435.50" y2="220.26" stroke="#4a566e" stroke-width="0.9"/>
<line x1="433.40" y1="208.50" x2="437.40" y2="208.50" stroke="#4a566e" stroke-width="0.9"/>
<circle cx="433.20" cy="208.06" r="1.3" fill="#4a566e"/>
<circle cx="437.60" cy="210.09" r="1.3" fill="#4a566e"/>
<circle cx="433.20" cy="211.62" r="1.3" fill="#4a566e"/>
<circle cx="435.40" cy="215.17" r="1.3" fill="#4a566e"/>
<circle cx="435.40" cy="218.73" r="1.3" fill="#4a566e"/>
<rect x="443.00" y="199.92" width="6.00" height="40.68" fill="#f3caa2"/>
<line x1="446.50" y1="191.78" x2="446.50" y2="208.06" stroke="#c77c1e" stroke-width="0.9"/>
<line x1="444.00" y1="191.50" x2="448.00" y2="191.50" stroke="#c77c1e" stroke-width="0.9"/>
<circle cx="445.00" cy="191.78" r="1.3" fill="#c77c1e"/>
<circle cx="446.50" cy="194.33" r="1.3" fill="#c77c1e"/>
<circle cx="446.50" cy="196.87" r="1.3" fill="#c77c1e"/>
<circle cx="444.00" cy="199.92" r="1.3" fill="#c77c1e"/>
<circle cx="448.50" cy="199.92" r="1.3" fill="#c77c1e"/>
<line x1="400.50" y1="166.90" x2="400.50" y2="240.60" stroke="#222" stroke-width="1.0"/>
<line x1="399.75" y1="240.50" x2="452.50" y2="240.50" stroke="#222" stroke-width="1.0"/>
<line x1="397.25" y1="240.50" x2="400.25" y2="240.50" stroke="#222" stroke-width="0.9"/>
<text x="394.25" y="242.98" font-size="6.6" text-anchor="end" fill="#333" font-weight="normal" font-family='"Liberation Sans", sans-serif' stroke="#333" stroke-width="0.1">0</text>
<line x1="397.25" y1="230.50" x2="400.25" y2="230.50" stroke="#222" stroke-width="0.9"/>
<text x="394.25" y="232.81" font-size="6.6" text-anchor="end" fill="#333" font-weight="normal" font-family='"Liberation Sans", sans-serif' stroke="#333" stroke-width="0.1">1</text>
<line x1="397.25" y1="220.50" x2="400.25" y2="220.50" stroke="#222" stroke-width="0.9"/>
<text x="394.25" y="222.64" font-size="6.6" text-anchor="end" fill="#333" font-weight="normal" font-family='"Liberation Sans", sans-serif' stroke="#333" stroke-width="0.1">2</text>
<line x1="397.25" y1="210.50" x2="400.25" y2="210.50" stroke="#222" stroke-width="0.9"/>
<text x="394.25" y="212.47" font-size="6.6" text-anchor="end" fill="#333" font-weight="normal" font-family='"Liberation Sans", sans-serif' stroke="#333" stroke-width="0.1">3</text>
<line x1="397.25" y1="199.50" x2="400.25" y2="199.50" stroke="#222" stroke-width="0.9"/>
<text x="394.25" y="202.30" font-size="6.6" text-anchor="end" fill="#333" font-weight="normal" font-family='"Liberation Sans", sans-serif' stroke="#333" stroke-width="0.1">4</text>
<line x1="397.25" y1="189.50" x2="400.25" y2="189.50" stroke="#222" stroke-width="0.9"/>
<text x="394.25" y="192.13" font-size="6.6" text-anchor="end" fill="#333" font-weight="normal" font-family='"Liberation Sans", sans-serif' stroke="#333" stroke-width="0.1">5</text>
<line x1="397.25" y1="179.50" x2="400.25" y2="179.50" stroke="#222" stroke-width="0.9"/>
<text x="394.25" y="181.96" font-size="6.6" text-anchor="end" fill="#333" font-weight="normal" font-family='"Liberation Sans", sans-serif' stroke="#333" stroke-width="0.1">6</text>
<line x1="397.25" y1="169.50" x2="400.25" y2="169.50" stroke="#222" stroke-width="0.9"/>
<text x="394.25" y="171.79" font-size="6.6" text-anchor="end" fill="#333" font-weight="normal" font-family='"Liberation Sans", sans-serif' stroke="#333" stroke-width="0.1">7</text>
<line x1="412.50" y1="240.60" x2="412.50" y2="243.00" stroke="#222" stroke-width="0.9"/>
<line x1="440.50" y1="240.60" x2="440.50" y2="243.00" stroke="#222" stroke-width="0.9"/>
<text x="412.75" y="252.40" font-size="6.6" text-anchor="middle" fill="#333" font-weight="normal" font-family='"Liberation Sans", sans-serif' stroke="#333" stroke-width="0.1">14</text>
<text x="440.00" y="252.40" font-size="6.6" text-anchor="middle" fill="#333" font-weight="normal" font-family='"Liberation Sans", sans-serif' stroke="#333" stroke-width="0.1">28</text>
<text x="388.25" y="252.40" font-size="6.6" text-anchor="middle" fill="#333" font-weight="normal" font-family='"Liberation Sans", sans-serif' stroke="#333" stroke-width="0.1">Day</text>
<line x1="407.00" y1="179.50" x2="417.00" y2="179.50" stroke="#333" stroke-width="1.0"/>
<text x="412.00" y="179.30" font-size="7.0" text-anchor="middle" fill="#222" font-weight="normal" font-family='"Liberation Sans", sans-serif' stroke-width="0">**</text>
<line x1="435.00" y1="186.50" x2="446.30" y2="186.50" stroke="#333" stroke-width="1.0"/>
<text x="440.65" y="186.20" font-size="7.0" text-anchor="middle" fill="#222" font-weight="normal" font-family='"Liberation Sans", sans-serif' stroke-width="0">**</text>
<text x="375.74" y="204.00" font-size="7.6" text-anchor="middle" fill="#222" font-weight="normal" font-family='"Liberation Sans", sans-serif' textLength="40.00" lengthAdjust="spacingAndGlyphs" transform="rotate(-90 375.74 204.00)" stroke="#222" stroke-width="0.22">No. of TOX<tspan font-size="5.47" dy="-2.74">low</tspan></text>
<text x="384.94" y="205.60" font-size="7.6" text-anchor="middle" fill="#222" font-weight="normal" font-family='"Liberation Sans", sans-serif' textLength="37.40" lengthAdjust="spacingAndGlyphs" transform="rotate(-90 384.94 205.60)" stroke="#222" stroke-width="0.22">T cells (×10<tspan font-size="5.47" dy="-2.74">3</tspan><tspan dy="2.74">)</tspan></text>
<text x="371.30" y="158.90" font-size="11" text-anchor="start" fill="#111" font-weight="bold" font-family='"Liberation Sans", sans-serif' stroke="#111" stroke-width="0.35">H</text>
<rect x="94.50" y="312.99" width="6.00" height="32.31" fill="#8f8f9d"/>
<line x1="97.50" y1="307.39" x2="97.50" y2="318.59" stroke="#3c4254" stroke-width="0.9"/>
<line x1="95.50" y1="307.50" x2="99.50" y2="307.50" stroke="#3c4254" stroke-width="0.9"/>
<circle cx="97.50" cy="303.24" r="1.3" fill="#3c4254"/>
<circle cx="96.00" cy="307.39" r="1.3" fill="#3c4254"/>
<circle cx="98.50" cy="308.66" r="1.3" fill="#3c4254"/>
<circle cx="97.50" cy="311.00" r="1.3" fill="#3c4254"/>
<circle cx="96.00" cy="316.24" r="1.3" fill="#3c4254"/>
<circle cx="95.20" cy="319.49" r="1.3" fill="#3c4254"/>
<circle cx="99.00" cy="318.77" r="1.3" fill="#3c4254"/>
<rect x="105.30" y="327.79" width="6.00" height="17.51" fill="#b0cfec"/>
<line x1="108.50" y1="321.47" x2="108.50" y2="334.11" stroke="#2a9fdc" stroke-width="0.9"/>
<line x1="106.30" y1="321.50" x2="110.30" y2="321.50" stroke="#2a9fdc" stroke-width="0.9"/>
<circle cx="108.30" cy="321.47" r="1.3" fill="#2a9fdc"/>
<circle cx="106.10" cy="325.26" r="1.3" fill="#2a9fdc"/>
<circle cx="110.50" cy="325.26" r="1.3" fill="#2a9fdc"/>
<circle cx="108.30" cy="329.06" r="1.3" fill="#2a9fdc"/>
<circle cx="108.30" cy="333.57" r="1.3" fill="#2a9fdc"/>
<rect x="123.00" y="289.35" width="6.00" height="55.95" fill="#8f8f9d"/>
<line x1="126.50" y1="280.86" x2="126.50" y2="297.83" stroke="#3c4254" stroke-width="0.9"/>
<line x1="124.00" y1="280.50" x2="128.00" y2="280.50" stroke="#3c4254" stroke-width="0.9"/>
<circle cx="123.70" cy="278.70" r="1.3" fill="#3c4254"/>
<circle cx="128.00" cy="280.86" r="1.3" fill="#3c4254"/>
<circle cx="126.00" cy="293.14" r="1.3" fill="#3c4254"/>
<circle cx="126.00" cy="296.38" r="1.3" fill="#3c4254"/>
<circle cx="124.50" cy="299.27" r="1.3" fill="#3c4254"/>
<rect x="133.00" y="326.53" width="6.00" height="18.77" fill="#b0cfec"/>
<line x1="136.50" y1="321.84" x2="136.50" y2="331.22" stroke="#2a9fdc" stroke-width="0.9"/>
<line x1="134.00" y1="321.50" x2="138.00" y2="321.50" stroke="#2a9fdc" stroke-width="0.9"/>
<circle cx="136.50" cy="319.49" r="1.3" fill="#2a9fdc"/>
<circle cx="134.50" cy="325.26" r="1.3" fill="#2a9fdc"/>
<circle cx="137.50" cy="325.26" r="1.3" fill="#2a9fdc"/>
<circle cx="136.00" cy="327.25" r="1.3" fill="#2a9fdc"/>
<circle cx="134.50" cy="329.78" r="1.3" fill="#2a9fdc"/>
<line x1="90.50" y1="270.20" x2="90.50" y2="345.30" stroke="#222" stroke-width="1.0"/>
<line x1="89.50" y1="345.50" x2="143.50" y2="345.50" stroke="#222" stroke-width="1.0"/>
<line x1="87.00" y1="345.50" x2="90.00" y2="345.50" stroke="#222" stroke-width="0.9"/>
<text x="84.00" y="347.68" font-size="6.6" text-anchor="end" fill="#333" font-weight="normal" font-family='"Liberation Sans", sans-serif' stroke="#333" stroke-width="0.1">0</text>
<line x1="87.00" y1="327.50" x2="90.00" y2="327.50" stroke="#222" stroke-width="0.9"/>
<text x="84.00" y="329.63" font-size="6.6" text-anchor="end" fill="#333" font-weight="normal" font-family='"Liberation Sans", sans-serif' stroke="#333" stroke-width="0.1">10</text>
<line x1="87.00" y1="309.50" x2="90.00" y2="309.50" stroke="#222" stroke-width="0.9"/>
<text x="84.00" y="311.58" font-size="6.6" text-anchor="end" fill="#333" font-weight="normal" font-family='"Liberation Sans", sans-serif' stroke="#333" stroke-width="0.1">20</text>
<line x1="87.00" y1="291.50" x2="90.00" y2="291.50" stroke="#222" stroke-width="0.9"/>
<text x="84.00" y="293.53" font-size="6.6" text-anchor="end" fill="#333" font-weight="normal" font-family='"Liberation Sans", sans-serif' stroke="#333" stroke-width="0.1">30</text>
<line x1="87.00" y1="273.50" x2="90.00" y2="273.50" stroke="#222" stroke-width="0.9"/>
<text x="84.00" y="275.48" font-size="6.6" text-anchor="end" fill="#333" font-weight="normal" font-family='"Liberation Sans", sans-serif' stroke="#333" stroke-width="0.1">40</text>
<line x1="102.50" y1="345.30" x2="102.50" y2="347.70" stroke="#222" stroke-width="0.9"/>
<line x1="131.50" y1="345.30" x2="131.50" y2="347.70" stroke="#222" stroke-width="0.9"/>
<text x="102.40" y="357.10" font-size="6.6" text-anchor="middle" fill="#333" font-weight="normal" font-family='"Liberation Sans", sans-serif' stroke="#333" stroke-width="0.1">14</text>
<text x="131.50" y="357.10" font-size="6.6" text-anchor="middle" fill="#333" font-weight="normal" font-family='"Liberation Sans", sans-serif' stroke="#333" stroke-width="0.1">28</text>
<text x="78.00" y="357.10" font-size="6.6" text-anchor="middle" fill="#333" font-weight="normal" font-family='"Liberation Sans", sans-serif' stroke="#333" stroke-width="0.1">Day</text>
<line x1="96.90" y1="298.50" x2="107.50" y2="298.50" stroke="#333" stroke-width="1.0"/>
<text x="102.20" y="298.80" font-size="7.0" text-anchor="middle" fill="#222" font-weight="normal" font-family='"Liberation Sans", sans-serif' stroke-width="0">**</text>
<line x1="125.00" y1="274.50" x2="136.50" y2="274.50" stroke="#333" stroke-width="1.0"/>
<text x="130.75" y="274.00" font-size="7.0" text-anchor="middle" fill="#222" font-weight="normal" font-family='"Liberation Sans", sans-serif' stroke-width="0">**</text>
<text x="62.14" y="310.00" font-size="7.6" text-anchor="middle" fill="#222" font-weight="normal" font-family='"Liberation Sans", sans-serif' textLength="53.00" lengthAdjust="spacingAndGlyphs" transform="rotate(-90 62.14 310.00)" stroke="#222" stroke-width="0.22">No. of PD-1<tspan font-size="5.47" dy="-2.74">+</tspan><tspan dy="2.74">TIGIT</tspan><tspan font-size="5.47" dy="-2.74">+</tspan></text>
<text x="71.24" y="307.50" font-size="7.6" text-anchor="middle" fill="#222" font-weight="normal" font-family='"Liberation Sans", sans-serif' textLength="40.50" lengthAdjust="spacingAndGlyphs" transform="rotate(-90 71.24 307.50)" stroke="#222" stroke-width="0.22">T cells (×10<tspan font-size="5.47" dy="-2.74">3</tspan><tspan dy="2.74">)</tspan></text>
<text x="46.70" y="307.90" font-size="8.6" text-anchor="middle" fill="#222" font-weight="normal" font-family='"Liberation Sans", sans-serif' textLength="35.80" lengthAdjust="spacingAndGlyphs" transform="rotate(-90 46.70 307.90)" stroke="#222" stroke-width="0">WT CD8<tspan font-size="6.19" dy="-3.10">+</tspan></text>
<rect x="201.90" y="325.16" width="6.00" height="20.24" fill="#8f8f9d"/>
<line x1="204.50" y1="318.89" x2="204.50" y2="331.42" stroke="#3c4254" stroke-width="0.9"/>
<line x1="202.90" y1="318.50" x2="206.90" y2="318.50" stroke="#3c4254" stroke-width="0.9"/>
<circle cx="207.50" cy="316.00" r="1.3" fill="#3c4254"/>
<circle cx="204.90" cy="318.89" r="1.3" fill="#3c4254"/>
<circle cx="204.90" cy="325.16" r="1.3" fill="#3c4254"/>
<circle cx="202.70" cy="329.49" r="1.3" fill="#3c4254"/>
<circle cx="207.50" cy="329.49" r="1.3" fill="#3c4254"/>
<circle cx="204.90" cy="330.46" r="1.3" fill="#3c4254"/>
<rect x="212.80" y="303.47" width="6.00" height="41.93" fill="#b0cfec"/>
<line x1="215.50" y1="297.68" x2="215.50" y2="309.25" stroke="#2a9fdc" stroke-width="0.9"/>
<line x1="213.80" y1="297.50" x2="217.80" y2="297.50" stroke="#2a9fdc" stroke-width="0.9"/>
<circle cx="215.80" cy="297.68" r="1.3" fill="#2a9fdc"/>
<circle cx="215.80" cy="299.85" r="1.3" fill="#2a9fdc"/>
<circle cx="213.30" cy="302.98" r="1.3" fill="#2a9fdc"/>
<circle cx="218.10" cy="304.43" r="1.3" fill="#2a9fdc"/>
<circle cx="215.80" cy="307.80" r="1.3" fill="#2a9fdc"/>
<circle cx="215.80" cy="313.59" r="1.3" fill="#2a9fdc"/>
<rect x="231.00" y="330.94" width="6.00" height="14.46" fill="#8f8f9d"/>
<line x1="234.50" y1="324.19" x2="234.50" y2="337.69" stroke="#3c4254" stroke-width="0.9"/>
<line x1="232.00" y1="324.50" x2="236.00" y2="324.50" stroke="#3c4254" stroke-width="0.9"/>
<circle cx="234.00" cy="318.89" r="1.3" fill="#3c4254"/>
<circle cx="234.00" cy="324.19" r="1.3" fill="#3c4254"/>
<circle cx="234.00" cy="328.53" r="1.3" fill="#3c4254"/>
<circle cx="232.50" cy="333.11" r="1.3" fill="#3c4254"/>
<circle cx="236.20" cy="333.83" r="1.3" fill="#3c4254"/>
<circle cx="233.00" cy="335.76" r="1.3" fill="#3c4254"/>
<rect x="241.60" y="307.80" width="6.00" height="37.60" fill="#b0cfec"/>
<line x1="244.50" y1="301.06" x2="244.50" y2="314.55" stroke="#2a9fdc" stroke-width="0.9"/>
<line x1="242.60" y1="301.50" x2="246.60" y2="301.50" stroke="#2a9fdc" stroke-width="0.9"/>
<circle cx="244.60" cy="295.03" r="1.3" fill="#2a9fdc"/>
<circle cx="242.00" cy="301.06" r="1.3" fill="#2a9fdc"/>
<circle cx="246.80" cy="303.47" r="1.3" fill="#2a9fdc"/>
<circle cx="244.60" cy="307.32" r="1.3" fill="#2a9fdc"/>
<circle cx="244.60" cy="315.52" r="1.3" fill="#2a9fdc"/>
<circle cx="244.60" cy="319.37" r="1.3" fill="#2a9fdc"/>
<line x1="198.50" y1="270.20" x2="198.50" y2="345.40" stroke="#222" stroke-width="1.0"/>
<line x1="197.50" y1="345.50" x2="251.00" y2="345.50" stroke="#222" stroke-width="1.0"/>
<line x1="195.00" y1="345.50" x2="198.00" y2="345.50" stroke="#222" stroke-width="0.9"/>
<text x="192.00" y="347.78" font-size="6.6" text-anchor="end" fill="#333" font-weight="normal" font-family='"Liberation Sans", sans-serif' stroke="#333" stroke-width="0.1">0</text>
<line x1="195.00" y1="321.50" x2="198.00" y2="321.50" stroke="#222" stroke-width="0.9"/>
<text x="192.00" y="323.68" font-size="6.6" text-anchor="end" fill="#333" font-weight="normal" font-family='"Liberation Sans", sans-serif' stroke="#333" stroke-width="0.1">5</text>
<line x1="195.00" y1="297.50" x2="198.00" y2="297.50" stroke="#222" stroke-width="0.9"/>
<text x="192.00" y="299.58" font-size="6.6" text-anchor="end" fill="#333" font-weight="normal" font-family='"Liberation Sans", sans-serif' stroke="#333" stroke-width="0.1">10</text>
<line x1="195.00" y1="273.50" x2="198.00" y2="273.50" stroke="#222" stroke-width="0.9"/>
<text x="192.00" y="275.48" font-size="6.6" text-anchor="end" fill="#333" font-weight="normal" font-family='"Liberation Sans", sans-serif' stroke="#333" stroke-width="0.1">15</text>
<line x1="210.50" y1="345.40" x2="210.50" y2="347.80" stroke="#222" stroke-width="0.9"/>
<line x1="239.50" y1="345.40" x2="239.50" y2="347.80" stroke="#222" stroke-width="0.9"/>
<text x="210.40" y="357.20" font-size="6.6" text-anchor="middle" fill="#333" font-weight="normal" font-family='"Liberation Sans", sans-serif' stroke="#333" stroke-width="0.1">14</text>
<text x="239.00" y="357.20" font-size="6.6" text-anchor="middle" fill="#333" font-weight="normal" font-family='"Liberation Sans", sans-serif' stroke="#333" stroke-width="0.1">28</text>
<text x="186.00" y="357.20" font-size="6.6" text-anchor="middle" fill="#333" font-weight="normal" font-family='"Liberation Sans", sans-serif' stroke="#333" stroke-width="0.1">Day</text>
<line x1="205.60" y1="292.50" x2="216.00" y2="292.50" stroke="#333" stroke-width="1.0"/>
<text x="210.80" y="292.30" font-size="7.0" text-anchor="middle" fill="#222" font-weight="normal" font-family='"Liberation Sans", sans-serif' stroke-width="0">**</text>
<line x1="235.00" y1="291.50" x2="245.00" y2="291.50" stroke="#333" stroke-width="1.0"/>
<text x="240.00" y="291.30" font-size="7.0" text-anchor="middle" fill="#222" font-weight="normal" font-family='"Liberation Sans", sans-serif' stroke-width="0">**</text>
<text x="169.84" y="308.30" font-size="7.6" text-anchor="middle" fill="#222" font-weight="normal" font-family='"Liberation Sans", sans-serif' textLength="53.70" lengthAdjust="spacingAndGlyphs" transform="rotate(-90 169.84 308.30)" stroke="#222" stroke-width="0.22">No. of PD-1<tspan font-size="5.47" dy="-2.74">+</tspan><tspan dy="2.74">TIGIT</tspan><tspan font-size="5.47" dy="-2.74">−</tspan></text>
<text x="179.14" y="306.80" font-size="7.6" text-anchor="middle" fill="#222" font-weight="normal" font-family='"Liberation Sans", sans-serif' textLength="40.50" lengthAdjust="spacingAndGlyphs" transform="rotate(-90 179.14 306.80)" stroke="#222" stroke-width="0.22">T cells (×10<tspan font-size="5.47" dy="-2.74">3</tspan><tspan dy="2.74">)</tspan></text>
<rect x="299.30" y="312.38" width="6.00" height="32.62" fill="#8f8f9d"/>
<line x1="302.50" y1="307.66" x2="302.50" y2="317.09" stroke="#3c4254" stroke-width="0.9"/>
<line x1="300.30" y1="307.50" x2="304.30" y2="307.50" stroke="#3c4254" stroke-width="0.9"/>
<circle cx="302.30" cy="306.57" r="1.3" fill="#3c4254"/>
<circle cx="304.50" cy="307.66" r="1.3" fill="#3c4254"/>
<circle cx="304.00" cy="310.20" r="1.3" fill="#3c4254"/>
<circle cx="300.10" cy="313.10" r="1.3" fill="#3c4254"/>
<circle cx="302.30" cy="312.38" r="1.3" fill="#3c4254"/>
<rect x="309.90" y="316.22" width="6.00" height="28.78" fill="#b0cfec"/>
<line x1="312.50" y1="312.01" x2="312.50" y2="320.42" stroke="#2a9fdc" stroke-width="0.9"/>
<line x1="310.90" y1="312.50" x2="314.90" y2="312.50" stroke="#2a9fdc" stroke-width="0.9"/>
<circle cx="312.90" cy="312.01" r="1.3" fill="#2a9fdc"/>
<circle cx="311.90" cy="316.36" r="1.3" fill="#2a9fdc"/>
<circle cx="315.90" cy="317.81" r="1.3" fill="#2a9fdc"/>
<circle cx="311.90" cy="321.07" r="1.3" fill="#2a9fdc"/>
<rect x="328.20" y="289.18" width="6.00" height="55.82" fill="#8f8f9d"/>
<line x1="331.50" y1="286.27" x2="331.50" y2="292.08" stroke="#3c4254" stroke-width="0.9"/>
<line x1="329.20" y1="286.50" x2="333.20" y2="286.50" stroke="#3c4254" stroke-width="0.9"/>
<circle cx="331.20" cy="286.27" r="1.3" fill="#3c4254"/>
<circle cx="329.20" cy="289.18" r="1.3" fill="#3c4254"/>
<circle cx="333.40" cy="289.18" r="1.3" fill="#3c4254"/>
<circle cx="331.20" cy="293.52" r="1.3" fill="#3c4254"/>
<circle cx="331.20" cy="294.98" r="1.3" fill="#3c4254"/>
<rect x="339.20" y="300.77" width="6.00" height="44.23" fill="#b0cfec"/>
<line x1="342.50" y1="296.43" x2="342.50" y2="305.12" stroke="#2a9fdc" stroke-width="0.9"/>
<line x1="340.20" y1="296.50" x2="344.20" y2="296.50" stroke="#2a9fdc" stroke-width="0.9"/>
<circle cx="342.20" cy="296.43" r="1.3" fill="#2a9fdc"/>
<circle cx="344.20" cy="301.50" r="1.3" fill="#2a9fdc"/>
<circle cx="339.30" cy="304.04" r="1.3" fill="#2a9fdc"/>
<circle cx="343.60" cy="305.12" r="1.3" fill="#2a9fdc"/>
<circle cx="342.20" cy="312.38" r="1.3" fill="#2a9fdc"/>
<line x1="295.50" y1="269.80" x2="295.50" y2="345.00" stroke="#222" stroke-width="1.0"/>
<line x1="295.10" y1="345.50" x2="349.00" y2="345.50" stroke="#222" stroke-width="1.0"/>
<line x1="292.60" y1="345.50" x2="295.60" y2="345.50" stroke="#222" stroke-width="0.9"/>
<text x="289.60" y="347.38" font-size="6.6" text-anchor="end" fill="#333" font-weight="normal" font-family='"Liberation Sans", sans-serif' stroke="#333" stroke-width="0.1">0</text>
<line x1="292.60" y1="330.50" x2="295.60" y2="330.50" stroke="#222" stroke-width="0.9"/>
<text x="289.60" y="332.88" font-size="6.6" text-anchor="end" fill="#333" font-weight="normal" font-family='"Liberation Sans", sans-serif' stroke="#333" stroke-width="0.1">2</text>
<line x1="292.60" y1="316.50" x2="295.60" y2="316.50" stroke="#222" stroke-width="0.9"/>
<text x="289.60" y="318.38" font-size="6.6" text-anchor="end" fill="#333" font-weight="normal" font-family='"Liberation Sans", sans-serif' stroke="#333" stroke-width="0.1">4</text>
<line x1="292.60" y1="301.50" x2="295.60" y2="301.50" stroke="#222" stroke-width="0.9"/>
<text x="289.60" y="303.88" font-size="6.6" text-anchor="end" fill="#333" font-weight="normal" font-family='"Liberation Sans", sans-serif' stroke="#333" stroke-width="0.1">6</text>
<line x1="292.60" y1="287.50" x2="295.60" y2="287.50" stroke="#222" stroke-width="0.9"/>
<text x="289.60" y="289.38" font-size="6.6" text-anchor="end" fill="#333" font-weight="normal" font-family='"Liberation Sans", sans-serif' stroke="#333" stroke-width="0.1">8</text>
<line x1="292.60" y1="272.50" x2="295.60" y2="272.50" stroke="#222" stroke-width="0.9"/>
<text x="289.60" y="274.88" font-size="6.6" text-anchor="end" fill="#333" font-weight="normal" font-family='"Liberation Sans", sans-serif' stroke="#333" stroke-width="0.1">10</text>
<line x1="308.50" y1="345.00" x2="308.50" y2="347.40" stroke="#222" stroke-width="0.9"/>
<line x1="337.50" y1="345.00" x2="337.50" y2="347.40" stroke="#222" stroke-width="0.9"/>
<text x="308.30" y="356.80" font-size="6.6" text-anchor="middle" fill="#333" font-weight="normal" font-family='"Liberation Sans", sans-serif' stroke="#333" stroke-width="0.1">14</text>
<text x="337.70" y="356.80" font-size="6.6" text-anchor="middle" fill="#333" font-weight="normal" font-family='"Liberation Sans", sans-serif' stroke="#333" stroke-width="0.1">28</text>
<text x="283.60" y="356.80" font-size="6.6" text-anchor="middle" fill="#333" font-weight="normal" font-family='"Liberation Sans", sans-serif' stroke="#333" stroke-width="0.1">Day</text>
<line x1="301.90" y1="300.50" x2="314.80" y2="300.50" stroke="#333" stroke-width="1.0"/>
<text x="308.35" y="300.60" font-size="7.0" text-anchor="middle" fill="#222" font-weight="normal" font-family='"Liberation Sans", sans-serif' stroke-width="0">*</text>
<line x1="331.30" y1="282.50" x2="342.50" y2="282.50" stroke="#333" stroke-width="1.0"/>
<text x="336.90" y="282.30" font-size="7.0" text-anchor="middle" fill="#222" font-weight="normal" font-family='"Liberation Sans", sans-serif' stroke-width="0">*</text>
<text x="278.24" y="309.00" font-size="7.6" text-anchor="middle" fill="#222" font-weight="normal" font-family='"Liberation Sans", sans-serif' textLength="48.60" lengthAdjust="spacingAndGlyphs" transform="rotate(-90 278.24 309.00)" stroke="#222" stroke-width="0.22">TOX MFI (×10<tspan font-size="5.47" dy="-2.74">3</tspan><tspan dy="2.74">)</tspan></text>
<rect x="403.90" y="312.52" width="6.00" height="33.18" fill="#8f8f9d"/>
<line x1="406.50" y1="310.93" x2="406.50" y2="314.10" stroke="#3c4254" stroke-width="0.9"/>
<line x1="404.90" y1="310.50" x2="408.90" y2="310.50" stroke="#3c4254" stroke-width="0.9"/>
<circle cx="404.70" cy="310.93" r="1.3" fill="#3c4254"/>
<circle cx="407.90" cy="312.52" r="1.3" fill="#3c4254"/>
<circle cx="409.50" cy="313.00" r="1.3" fill="#3c4254"/>
<circle cx="409.50" cy="316.18" r="1.3" fill="#3c4254"/>
<circle cx="404.70" cy="317.76" r="1.3" fill="#3c4254"/>
<rect x="414.70" y="300.32" width="6.00" height="45.38" fill="#b0cfec"/>
<line x1="417.50" y1="289.82" x2="417.50" y2="310.81" stroke="#2a9fdc" stroke-width="0.9"/>
<line x1="415.70" y1="289.50" x2="419.70" y2="289.50" stroke="#2a9fdc" stroke-width="0.9"/>
<circle cx="417.70" cy="289.82" r="1.3" fill="#2a9fdc"/>
<circle cx="417.70" cy="292.39" r="1.3" fill="#2a9fdc"/>
<circle cx="417.70" cy="297.75" r="1.3" fill="#2a9fdc"/>
<circle cx="417.70" cy="304.59" r="1.3" fill="#2a9fdc"/>
<circle cx="417.70" cy="307.15" r="1.3" fill="#2a9fdc"/>
<rect x="431.90" y="311.54" width="6.00" height="34.16" fill="#8f8f9d"/>
<line x1="434.50" y1="309.34" x2="434.50" y2="313.74" stroke="#3c4254" stroke-width="0.9"/>
<line x1="432.90" y1="309.50" x2="436.90" y2="309.50" stroke="#3c4254" stroke-width="0.9"/>
<circle cx="433.30" cy="309.34" r="1.3" fill="#3c4254"/>
<circle cx="437.50" cy="312.03" r="1.3" fill="#3c4254"/>
<circle cx="433.90" cy="313.61" r="1.3" fill="#3c4254"/>
<circle cx="436.50" cy="316.18" r="1.3" fill="#3c4254"/>
<circle cx="433.30" cy="319.47" r="1.3" fill="#3c4254"/>
<circle cx="437.50" cy="318.25" r="1.3" fill="#3c4254"/>
<rect x="443.00" y="288.73" width="6.00" height="56.97" fill="#b0cfec"/>
<line x1="446.50" y1="287.14" x2="446.50" y2="290.31" stroke="#2a9fdc" stroke-width="0.9"/>
<line x1="444.00" y1="287.50" x2="448.00" y2="287.50" stroke="#2a9fdc" stroke-width="0.9"/>
<circle cx="444.40" cy="287.14" r="1.3" fill="#2a9fdc"/>
<circle cx="448.60" cy="288.73" r="1.3" fill="#2a9fdc"/>
<circle cx="444.40" cy="291.29" r="1.3" fill="#2a9fdc"/>
<circle cx="448.20" cy="295.68" r="1.3" fill="#2a9fdc"/>
<circle cx="444.00" cy="298.12" r="1.3" fill="#2a9fdc"/>
<line x1="400.50" y1="269.80" x2="400.50" y2="345.70" stroke="#222" stroke-width="1.0"/>
<line x1="399.50" y1="345.50" x2="452.50" y2="345.50" stroke="#222" stroke-width="1.0"/>
<line x1="397.00" y1="345.50" x2="400.00" y2="345.50" stroke="#222" stroke-width="0.9"/>
<text x="394.00" y="348.08" font-size="6.6" text-anchor="end" fill="#333" font-weight="normal" font-family='"Liberation Sans", sans-serif' stroke="#333" stroke-width="0.1">0</text>
<line x1="397.00" y1="333.50" x2="400.00" y2="333.50" stroke="#222" stroke-width="0.9"/>
<text x="394.00" y="335.88" font-size="6.6" text-anchor="end" fill="#333" font-weight="normal" font-family='"Liberation Sans", sans-serif' stroke="#333" stroke-width="0.1">1</text>
<line x1="397.00" y1="321.50" x2="400.00" y2="321.50" stroke="#222" stroke-width="0.9"/>
<text x="394.00" y="323.68" font-size="6.6" text-anchor="end" fill="#333" font-weight="normal" font-family='"Liberation Sans", sans-serif' stroke="#333" stroke-width="0.1">2</text>
<line x1="397.00" y1="309.50" x2="400.00" y2="309.50" stroke="#222" stroke-width="0.9"/>
<text x="394.00" y="311.48" font-size="6.6" text-anchor="end" fill="#333" font-weight="normal" font-family='"Liberation Sans", sans-serif' stroke="#333" stroke-width="0.1">3</text>
<line x1="397.00" y1="296.50" x2="400.00" y2="296.50" stroke="#222" stroke-width="0.9"/>
<text x="394.00" y="299.28" font-size="6.6" text-anchor="end" fill="#333" font-weight="normal" font-family='"Liberation Sans", sans-serif' stroke="#333" stroke-width="0.1">4</text>
<line x1="397.00" y1="284.50" x2="400.00" y2="284.50" stroke="#222" stroke-width="0.9"/>
<text x="394.00" y="287.08" font-size="6.6" text-anchor="end" fill="#333" font-weight="normal" font-family='"Liberation Sans", sans-serif' stroke="#333" stroke-width="0.1">5</text>
<line x1="397.00" y1="272.50" x2="400.00" y2="272.50" stroke="#222" stroke-width="0.9"/>
<text x="394.00" y="274.88" font-size="6.6" text-anchor="end" fill="#333" font-weight="normal" font-family='"Liberation Sans", sans-serif' stroke="#333" stroke-width="0.1">6</text>
<line x1="412.50" y1="345.70" x2="412.50" y2="348.10" stroke="#222" stroke-width="0.9"/>
<line x1="440.50" y1="345.70" x2="440.50" y2="348.10" stroke="#222" stroke-width="0.9"/>
<text x="412.75" y="357.50" font-size="6.6" text-anchor="middle" fill="#333" font-weight="normal" font-family='"Liberation Sans", sans-serif' stroke="#333" stroke-width="0.1">14</text>
<text x="440.00" y="357.50" font-size="6.6" text-anchor="middle" fill="#333" font-weight="normal" font-family='"Liberation Sans", sans-serif' stroke="#333" stroke-width="0.1">28</text>
<text x="388.00" y="357.50" font-size="6.6" text-anchor="middle" fill="#333" font-weight="normal" font-family='"Liberation Sans", sans-serif' stroke="#333" stroke-width="0.1">Day</text>
<line x1="406.30" y1="285.50" x2="418.80" y2="285.50" stroke="#333" stroke-width="1.0"/>
<text x="412.55" y="285.00" font-size="7.0" text-anchor="middle" fill="#222" font-weight="normal" font-family='"Liberation Sans", sans-serif' stroke-width="0">**</text>
<line x1="436.00" y1="283.50" x2="447.80" y2="283.50" stroke="#333" stroke-width="1.0"/>
<text x="441.90" y="283.80" font-size="7.0" text-anchor="middle" fill="#222" font-weight="normal" font-family='"Liberation Sans", sans-serif' stroke-width="0">**</text>
<text x="375.74" y="308.50" font-size="7.6" text-anchor="middle" fill="#222" font-weight="normal" font-family='"Liberation Sans", sans-serif' textLength="40.00" lengthAdjust="spacingAndGlyphs" transform="rotate(-90 375.74 308.50)" stroke="#222" stroke-width="0.22">No. of TOX<tspan font-size="5.47" dy="-2.74">low</tspan></text>
<text x="384.94" y="310.10" font-size="7.6" text-anchor="middle" fill="#222" font-weight="normal" font-family='"Liberation Sans", sans-serif' textLength="37.40" lengthAdjust="spacingAndGlyphs" transform="rotate(-90 384.94 310.10)" stroke="#222" stroke-width="0.22">T cells (×10<tspan font-size="5.47" dy="-2.74">3</tspan><tspan dy="2.74">)</tspan></text>
<rect x="459.90" y="197.00" width="5.00" height="5.00" fill="#3c4660"/>
<text x="467.30" y="201.30" font-size="5.1" text-anchor="start" fill="#4a4a4a" font-weight="normal" font-family='"Liberation Sans", sans-serif' stroke="#4a4a4a" stroke-width="0.1">Vehicle</text>
<rect x="459.90" y="205.20" width="5.00" height="5.00" fill="#c87020"/>
<text x="467.30" y="209.50" font-size="5.1" text-anchor="start" fill="#4a4a4a" font-weight="normal" font-family='"Liberation Sans", sans-serif' stroke="#4a4a4a" stroke-width="0.1">Ibrutinib</text>
<rect x="459.90" y="300.40" width="5.00" height="5.00" fill="#3c4254"/>
<text x="467.30" y="304.70" font-size="5.1" text-anchor="start" fill="#4a4a4a" font-weight="normal" font-family='"Liberation Sans", sans-serif' stroke="#4a4a4a" stroke-width="0.1">Vehicle</text>
<rect x="459.90" y="308.60" width="5.00" height="5.00" fill="#2a9fdc"/>
<text x="467.30" y="312.90" font-size="5.1" text-anchor="start" fill="#4a4a4a" font-weight="normal" font-family='"Liberation Sans", sans-serif' stroke="#4a4a4a" stroke-width="0.1">Ibrutinib</text>
<rect x="43.20" y="445.05" width="12.00" height="13.35" fill="#9b9ba8"/>
<line x1="49.50" y1="440.34" x2="49.50" y2="449.76" stroke="#2a2a33" stroke-width="0.8"/>
<line x1="46.20" y1="440.50" x2="52.20" y2="440.50" stroke="#2a2a33" stroke-width="0.8"/>
<circle cx="49.20" cy="437.52" r="1.2" fill="#111"/>
<circle cx="47.20" cy="443.48" r="1.2" fill="#111"/>
<circle cx="50.70" cy="445.05" r="1.2" fill="#111"/>
<circle cx="49.20" cy="448.19" r="1.2" fill="#111"/>
<circle cx="48.70" cy="450.55" r="1.2" fill="#111"/>
<rect x="63.10" y="419.62" width="12.00" height="38.78" fill="#b3d2ef"/>
<line x1="69.50" y1="406.12" x2="69.50" y2="433.12" stroke="#5aa6e0" stroke-width="0.8"/>
<line x1="66.10" y1="406.50" x2="72.10" y2="406.50" stroke="#5aa6e0" stroke-width="0.8"/>
<circle cx="69.10" cy="401.09" r="1.2" fill="#111"/>
<circle cx="69.10" cy="411.30" r="1.2" fill="#111"/>
<circle cx="69.10" cy="424.96" r="1.2" fill="#111"/>
<circle cx="67.10" cy="429.35" r="1.2" fill="#111"/>
<circle cx="71.10" cy="428.57" r="1.2" fill="#111"/>
<line x1="36.50" y1="400.60" x2="36.50" y2="458.40" stroke="#222" stroke-width="1.0"/>
<line x1="36.00" y1="458.50" x2="82.50" y2="458.50" stroke="#222" stroke-width="1.0"/>
<line x1="33.70" y1="458.50" x2="36.50" y2="458.50" stroke="#222" stroke-width="0.9"/>
<text x="31.00" y="460.78" font-size="6.6" text-anchor="end" fill="#333" font-weight="normal" font-family='"Liberation Sans", sans-serif' stroke="#333" stroke-width="0.1">0</text>
<line x1="33.70" y1="442.50" x2="36.50" y2="442.50" stroke="#222" stroke-width="0.9"/>
<text x="31.00" y="445.08" font-size="6.6" text-anchor="end" fill="#333" font-weight="normal" font-family='"Liberation Sans", sans-serif' stroke="#333" stroke-width="0.1">10</text>
<line x1="33.70" y1="427.50" x2="36.50" y2="427.50" stroke="#222" stroke-width="0.9"/>
<text x="31.00" y="429.38" font-size="6.6" text-anchor="end" fill="#333" font-weight="normal" font-family='"Liberation Sans", sans-serif' stroke="#333" stroke-width="0.1">20</text>
<line x1="33.70" y1="411.50" x2="36.50" y2="411.50" stroke="#222" stroke-width="0.9"/>
<text x="31.00" y="413.68" font-size="6.6" text-anchor="end" fill="#333" font-weight="normal" font-family='"Liberation Sans", sans-serif' stroke="#333" stroke-width="0.1">30</text>
<line x1="49.50" y1="458.40" x2="49.50" y2="460.80" stroke="#222" stroke-width="0.9"/>
<line x1="69.50" y1="458.40" x2="69.50" y2="460.80" stroke="#222" stroke-width="0.9"/>
<text x="50.50" y="466.70" font-size="6.4" text-anchor="end" fill="#5a5a5a" font-weight="normal" font-family='"Liberation Sans", sans-serif' transform="rotate(-30 50.50 466.70)" stroke="#5a5a5a" stroke-width="0.1">Vehicle</text>
<text x="69.80" y="466.70" font-size="6.4" text-anchor="end" fill="#78b8e8" font-weight="normal" font-family='"Liberation Sans", sans-serif' transform="rotate(-30 69.80 466.70)" stroke="#78b8e8" stroke-width="0.1">Ibrutinib</text>
<line x1="48.10" y1="398.50" x2="69.50" y2="398.50" stroke="#333" stroke-width="1.0"/>
<text x="58.80" y="398.50" font-size="7.0" text-anchor="middle" fill="#222" font-weight="normal" font-family='"Liberation Sans", sans-serif' stroke-width="0">**</text>
<text x="17.19" y="428.40" font-size="7.2" text-anchor="middle" fill="#222" font-weight="normal" font-family='"Liberation Sans", sans-serif' textLength="39.40" lengthAdjust="spacingAndGlyphs" transform="rotate(-90 17.19 428.40)" stroke="#222" stroke-width="0.1">Ly6C<tspan font-size="5.18" dy="-2.59">+</tspan><tspan dy="2.59">/CD8.1</tspan><tspan font-size="5.18" dy="-2.59">+</tspan></text>
<text x="25.80" y="400.30" font-size="6.0" text-anchor="middle" fill="#333" font-weight="normal" font-family='"Liberation Sans", sans-serif' stroke="#333" stroke-width="0.1">(%)</text>
<text x="59.80" y="383.50" font-size="8.6" text-anchor="middle" fill="#222" font-weight="normal" font-family='"Liberation Sans", sans-serif' stroke="#222" stroke-width="0.1">2C-Tg</text>
<rect x="127.30" y="444.15" width="12.00" height="13.95" fill="#9b9ba8"/>
<line x1="133.50" y1="437.40" x2="133.50" y2="450.89" stroke="#2a2a33" stroke-width="0.8"/>
<line x1="130.30" y1="437.50" x2="136.30" y2="437.50" stroke="#2a2a33" stroke-width="0.8"/>
<circle cx="133.30" cy="434.65" r="1.2" fill="#111"/>
<circle cx="131.30" cy="443.54" r="1.2" fill="#111"/>
<circle cx="134.80" cy="444.30" r="1.2" fill="#111"/>
<circle cx="133.30" cy="448.14" r="1.2" fill="#111"/>
<circle cx="132.80" cy="449.67" r="1.2" fill="#111"/>
<rect x="147.00" y="426.83" width="12.00" height="31.27" fill="#b3d2ef"/>
<line x1="153.50" y1="415.18" x2="153.50" y2="438.48" stroke="#5aa6e0" stroke-width="0.8"/>
<line x1="150.00" y1="415.50" x2="156.00" y2="415.50" stroke="#5aa6e0" stroke-width="0.8"/>
<circle cx="153.00" cy="411.80" r="1.2" fill="#111"/>
<circle cx="153.00" cy="419.01" r="1.2" fill="#111"/>
<circle cx="153.00" cy="427.44" r="1.2" fill="#111"/>
<circle cx="151.00" cy="437.86" r="1.2" fill="#111"/>
<circle cx="155.00" cy="436.33" r="1.2" fill="#111"/>
<line x1="120.50" y1="400.60" x2="120.50" y2="458.10" stroke="#222" stroke-width="1.0"/>
<line x1="120.10" y1="458.50" x2="167.00" y2="458.50" stroke="#222" stroke-width="1.0"/>
<line x1="117.80" y1="458.50" x2="120.60" y2="458.50" stroke="#222" stroke-width="0.9"/>
<text x="115.10" y="460.48" font-size="6.6" text-anchor="end" fill="#333" font-weight="normal" font-family='"Liberation Sans", sans-serif' stroke="#333" stroke-width="0.1">0</text>
<line x1="117.80" y1="442.50" x2="120.60" y2="442.50" stroke="#222" stroke-width="0.9"/>
<text x="115.10" y="445.15" font-size="6.6" text-anchor="end" fill="#333" font-weight="normal" font-family='"Liberation Sans", sans-serif' stroke="#333" stroke-width="0.1">10</text>
<line x1="117.80" y1="427.50" x2="120.60" y2="427.50" stroke="#222" stroke-width="0.9"/>
<text x="115.10" y="429.82" font-size="6.6" text-anchor="end" fill="#333" font-weight="normal" font-family='"Liberation Sans", sans-serif' stroke="#333" stroke-width="0.1">20</text>
<line x1="117.80" y1="412.50" x2="120.60" y2="412.50" stroke="#222" stroke-width="0.9"/>
<text x="115.10" y="414.49" font-size="6.6" text-anchor="end" fill="#333" font-weight="normal" font-family='"Liberation Sans", sans-serif' stroke="#333" stroke-width="0.1">30</text>
<line x1="133.50" y1="458.10" x2="133.50" y2="460.50" stroke="#222" stroke-width="0.9"/>
<line x1="153.50" y1="458.10" x2="153.50" y2="460.50" stroke="#222" stroke-width="0.9"/>
<text x="134.60" y="466.40" font-size="6.4" text-anchor="end" fill="#5a5a5a" font-weight="normal" font-family='"Liberation Sans", sans-serif' transform="rotate(-30 134.60 466.40)" stroke="#5a5a5a" stroke-width="0.1">Vehicle</text>
<text x="153.70" y="466.40" font-size="6.4" text-anchor="end" fill="#78b8e8" font-weight="normal" font-family='"Liberation Sans", sans-serif' transform="rotate(-30 153.70 466.40)" stroke="#78b8e8" stroke-width="0.1">Ibrutinib</text>
<line x1="133.10" y1="407.50" x2="153.80" y2="407.50" stroke="#333" stroke-width="1.0"/>
<text x="143.45" y="407.10" font-size="7.0" text-anchor="middle" fill="#222" font-weight="normal" font-family='"Liberation Sans", sans-serif' stroke-width="0">*</text>
<text x="101.09" y="431.60" font-size="7.2" text-anchor="middle" fill="#222" font-weight="normal" font-family='"Liberation Sans", sans-serif' textLength="66.00" lengthAdjust="spacingAndGlyphs" transform="rotate(-90 101.09 431.60)" stroke="#222" stroke-width="0.1">Ly6C<tspan font-size="5.18" dy="-2.59">+</tspan><tspan dy="2.59">/CD45.1</tspan><tspan font-size="5.18" dy="-2.59">+</tspan><tspan dy="2.59">CD8</tspan><tspan font-size="5.18" dy="-2.59">+</tspan></text>
<text x="109.40" y="400.30" font-size="6.0" text-anchor="middle" fill="#333" font-weight="normal" font-family='"Liberation Sans", sans-serif' stroke="#333" stroke-width="0.1">(%)</text>
<text x="143.00" y="385.40" font-size="8.6" text-anchor="middle" fill="#222" font-weight="normal" font-family='"Liberation Sans", sans-serif' stroke="#222" stroke-width="0.1">WT CD8<tspan font-size="6.19" dy="-3.10">+</tspan></text>
<rect x="211.00" y="441.04" width="12.00" height="17.56" fill="#9b9ba8"/>
<line x1="217.50" y1="433.10" x2="217.50" y2="448.99" stroke="#2a2a33" stroke-width="0.8"/>
<line x1="214.00" y1="433.50" x2="220.00" y2="433.50" stroke="#2a2a33" stroke-width="0.8"/>
<circle cx="217.00" cy="433.52" r="1.2" fill="#111"/>
<circle cx="215.50" cy="439.79" r="1.2" fill="#111"/>
<circle cx="218.50" cy="441.88" r="1.2" fill="#111"/>
<circle cx="217.00" cy="443.97" r="1.2" fill="#111"/>
<circle cx="216.50" cy="446.06" r="1.2" fill="#111"/>
<rect x="231.00" y="415.96" width="12.00" height="42.64" fill="#b3d2ef"/>
<line x1="237.50" y1="405.93" x2="237.50" y2="426.00" stroke="#5aa6e0" stroke-width="0.8"/>
<line x1="234.00" y1="405.50" x2="240.00" y2="405.50" stroke="#5aa6e0" stroke-width="0.8"/>
<circle cx="235.00" cy="408.44" r="1.2" fill="#111"/>
<circle cx="239.00" cy="409.28" r="1.2" fill="#111"/>
<circle cx="237.00" cy="418.47" r="1.2" fill="#111"/>
<circle cx="237.00" cy="431.43" r="1.2" fill="#111"/>
<line x1="203.50" y1="400.90" x2="203.50" y2="458.60" stroke="#222" stroke-width="1.0"/>
<line x1="203.30" y1="458.50" x2="250.00" y2="458.50" stroke="#222" stroke-width="1.0"/>
<line x1="201.00" y1="458.50" x2="203.80" y2="458.50" stroke="#222" stroke-width="0.9"/>
<text x="198.30" y="460.98" font-size="6.6" text-anchor="end" fill="#333" font-weight="normal" font-family='"Liberation Sans", sans-serif' stroke="#333" stroke-width="0.1">0</text>
<line x1="201.00" y1="437.50" x2="203.80" y2="437.50" stroke="#222" stroke-width="0.9"/>
<text x="198.30" y="440.08" font-size="6.6" text-anchor="end" fill="#333" font-weight="normal" font-family='"Liberation Sans", sans-serif' stroke="#333" stroke-width="0.1">5</text>
<line x1="201.00" y1="416.50" x2="203.80" y2="416.50" stroke="#222" stroke-width="0.9"/>
<text x="198.30" y="419.18" font-size="6.6" text-anchor="end" fill="#333" font-weight="normal" font-family='"Liberation Sans", sans-serif' stroke="#333" stroke-width="0.1">10</text>
<line x1="217.50" y1="458.60" x2="217.50" y2="461.00" stroke="#222" stroke-width="0.9"/>
<line x1="237.50" y1="458.60" x2="237.50" y2="461.00" stroke="#222" stroke-width="0.9"/>
<text x="218.30" y="466.90" font-size="6.4" text-anchor="end" fill="#5a5a5a" font-weight="normal" font-family='"Liberation Sans", sans-serif' transform="rotate(-30 218.30 466.90)" stroke="#5a5a5a" stroke-width="0.1">Vehicle</text>
<text x="237.70" y="466.90" font-size="6.4" text-anchor="end" fill="#78b8e8" font-weight="normal" font-family='"Liberation Sans", sans-serif' transform="rotate(-30 237.70 466.90)" stroke="#78b8e8" stroke-width="0.1">Ibrutinib</text>
<line x1="215.90" y1="402.50" x2="236.70" y2="402.50" stroke="#333" stroke-width="1.0"/>
<text x="226.30" y="402.90" font-size="7.0" text-anchor="middle" fill="#222" font-weight="normal" font-family='"Liberation Sans", sans-serif' stroke-width="0">**</text>
<text x="184.39" y="430.50" font-size="7.2" text-anchor="middle" fill="#222" font-weight="normal" font-family='"Liberation Sans", sans-serif' textLength="35.00" lengthAdjust="spacingAndGlyphs" transform="rotate(-90 184.39 430.50)" stroke="#222" stroke-width="0.1">Ly6C<tspan font-size="5.18" dy="-2.59">+</tspan><tspan dy="2.59">/CD4</tspan><tspan font-size="5.18" dy="-2.59">+</tspan></text>
<text x="193.70" y="400.30" font-size="6.0" text-anchor="middle" fill="#333" font-weight="normal" font-family='"Liberation Sans", sans-serif' stroke="#333" stroke-width="0.1">(%)</text>
<text x="226.60" y="385.40" font-size="8.6" text-anchor="middle" fill="#222" font-weight="normal" font-family='"Liberation Sans", sans-serif' stroke="#222" stroke-width="0.1">WT CD4<tspan font-size="6.19" dy="-3.10">+</tspan></text>
<rect x="43.20" y="551.25" width="12.00" height="12.25" fill="#9b9ba8"/>
<line x1="49.50" y1="545.73" x2="49.50" y2="556.78" stroke="#2a2a33" stroke-width="0.8"/>
<line x1="46.20" y1="545.50" x2="52.20" y2="545.50" stroke="#2a2a33" stroke-width="0.8"/>
<circle cx="49.20" cy="543.75" r="1.2" fill="#111"/>
<circle cx="47.20" cy="549.67" r="1.2" fill="#111"/>
<circle cx="51.20" cy="550.86" r="1.2" fill="#111"/>
<circle cx="47.70" cy="557.58" r="1.2" fill="#111"/>
<circle cx="50.70" cy="557.58" r="1.2" fill="#111"/>
<rect x="63.20" y="528.74" width="12.00" height="34.76" fill="#b3d2ef"/>
<line x1="69.50" y1="524.39" x2="69.50" y2="533.09" stroke="#5aa6e0" stroke-width="0.8"/>
<line x1="66.20" y1="524.50" x2="72.20" y2="524.50" stroke="#5aa6e0" stroke-width="0.8"/>
<circle cx="67.20" cy="523.21" r="1.2" fill="#111"/>
<circle cx="71.20" cy="524.39" r="1.2" fill="#111"/>
<circle cx="69.20" cy="527.16" r="1.2" fill="#111"/>
<circle cx="69.20" cy="530.32" r="1.2" fill="#111"/>
<circle cx="69.20" cy="533.48" r="1.2" fill="#111"/>
<line x1="35.50" y1="503.20" x2="35.50" y2="563.50" stroke="#222" stroke-width="1.0"/>
<line x1="35.20" y1="563.50" x2="83.00" y2="563.50" stroke="#222" stroke-width="1.0"/>
<line x1="32.90" y1="563.50" x2="35.70" y2="563.50" stroke="#222" stroke-width="0.9"/>
<text x="30.20" y="565.88" font-size="6.6" text-anchor="end" fill="#333" font-weight="normal" font-family='"Liberation Sans", sans-serif' stroke="#333" stroke-width="0.1">0</text>
<line x1="32.90" y1="543.50" x2="35.70" y2="543.50" stroke="#222" stroke-width="0.9"/>
<text x="30.20" y="546.13" font-size="6.6" text-anchor="end" fill="#333" font-weight="normal" font-family='"Liberation Sans", sans-serif' stroke="#333" stroke-width="0.1">5</text>
<line x1="32.90" y1="524.50" x2="35.70" y2="524.50" stroke="#222" stroke-width="0.9"/>
<text x="30.20" y="526.38" font-size="6.6" text-anchor="end" fill="#333" font-weight="normal" font-family='"Liberation Sans", sans-serif' stroke="#333" stroke-width="0.1">10</text>
<line x1="32.90" y1="504.50" x2="35.70" y2="504.50" stroke="#222" stroke-width="0.9"/>
<text x="30.20" y="506.63" font-size="6.6" text-anchor="end" fill="#333" font-weight="normal" font-family='"Liberation Sans", sans-serif' stroke="#333" stroke-width="0.1">15</text>
<line x1="49.50" y1="563.50" x2="49.50" y2="565.90" stroke="#222" stroke-width="0.9"/>
<line x1="69.50" y1="563.50" x2="69.50" y2="565.90" stroke="#222" stroke-width="0.9"/>
<text x="50.50" y="571.80" font-size="6.4" text-anchor="end" fill="#5a5a5a" font-weight="normal" font-family='"Liberation Sans", sans-serif' transform="rotate(-30 50.50 571.80)" stroke="#5a5a5a" stroke-width="0.1">Vehicle</text>
<text x="69.90" y="571.80" font-size="6.4" text-anchor="end" fill="#78b8e8" font-weight="normal" font-family='"Liberation Sans", sans-serif' transform="rotate(-30 69.90 571.80)" stroke="#78b8e8" stroke-width="0.1">Ibrutinib</text>
<line x1="49.20" y1="515.50" x2="68.90" y2="515.50" stroke="#333" stroke-width="1.0"/>
<text x="59.05" y="515.80" font-size="7.0" text-anchor="middle" fill="#222" font-weight="normal" font-family='"Liberation Sans", sans-serif' stroke-width="0">**</text>
<text x="17.61" y="532.50" font-size="6.7" text-anchor="middle" fill="#222" font-weight="normal" font-family='"Liberation Sans", sans-serif' textLength="60.50" lengthAdjust="spacingAndGlyphs" transform="rotate(-90 17.61 532.50)" stroke="#222" stroke-width="0.1">Ly6C<tspan font-size="4.82" dy="-2.41">+</tspan><tspan dy="2.41"> T cells (×10</tspan><tspan font-size="4.82" dy="-2.41">3</tspan><tspan dy="2.41">)</tspan></text>
<rect x="128.50" y="558.90" width="12.00" height="4.40" fill="#9b9ba8"/>
<line x1="134.50" y1="554.50" x2="134.50" y2="563.30" stroke="#2a2a33" stroke-width="0.8"/>
<line x1="131.50" y1="554.50" x2="137.50" y2="554.50" stroke="#2a2a33" stroke-width="0.8"/>
<circle cx="134.50" cy="554.10" r="1.2" fill="#111"/>
<circle cx="132.50" cy="556.10" r="1.2" fill="#111"/>
<circle cx="136.50" cy="557.30" r="1.2" fill="#111"/>
<circle cx="133.00" cy="561.70" r="1.2" fill="#111"/>
<circle cx="136.00" cy="561.30" r="1.2" fill="#111"/>
<rect x="148.60" y="530.50" width="12.00" height="32.80" fill="#b3d2ef"/>
<line x1="154.50" y1="523.70" x2="154.50" y2="537.30" stroke="#5aa6e0" stroke-width="0.8"/>
<line x1="151.60" y1="523.50" x2="157.60" y2="523.50" stroke="#5aa6e0" stroke-width="0.8"/>
<circle cx="154.60" cy="524.10" r="1.2" fill="#111"/>
<circle cx="151.60" cy="527.30" r="1.2" fill="#111"/>
<circle cx="157.60" cy="528.10" r="1.2" fill="#111"/>
<circle cx="154.60" cy="530.50" r="1.2" fill="#111"/>
<circle cx="154.60" cy="537.30" r="1.2" fill="#111"/>
<line x1="120.50" y1="500.60" x2="120.50" y2="563.30" stroke="#222" stroke-width="1.0"/>
<line x1="120.10" y1="563.50" x2="167.70" y2="563.50" stroke="#222" stroke-width="1.0"/>
<line x1="117.80" y1="563.50" x2="120.60" y2="563.50" stroke="#222" stroke-width="0.9"/>
<text x="115.10" y="565.68" font-size="6.6" text-anchor="end" fill="#333" font-weight="normal" font-family='"Liberation Sans", sans-serif' stroke="#333" stroke-width="0.1">0</text>
<line x1="117.80" y1="543.50" x2="120.60" y2="543.50" stroke="#222" stroke-width="0.9"/>
<text x="115.10" y="545.68" font-size="6.6" text-anchor="end" fill="#333" font-weight="normal" font-family='"Liberation Sans", sans-serif' stroke="#333" stroke-width="0.1">5</text>
<line x1="117.80" y1="523.50" x2="120.60" y2="523.50" stroke="#222" stroke-width="0.9"/>
<text x="115.10" y="525.68" font-size="6.6" text-anchor="end" fill="#333" font-weight="normal" font-family='"Liberation Sans", sans-serif' stroke="#333" stroke-width="0.1">10</text>
<line x1="117.80" y1="503.50" x2="120.60" y2="503.50" stroke="#222" stroke-width="0.9"/>
<text x="115.10" y="505.68" font-size="6.6" text-anchor="end" fill="#333" font-weight="normal" font-family='"Liberation Sans", sans-serif' stroke="#333" stroke-width="0.1">15</text>
<line x1="134.50" y1="563.30" x2="134.50" y2="565.70" stroke="#222" stroke-width="0.9"/>
<line x1="154.50" y1="563.30" x2="154.50" y2="565.70" stroke="#222" stroke-width="0.9"/>
<text x="135.80" y="571.60" font-size="6.4" text-anchor="end" fill="#5a5a5a" font-weight="normal" font-family='"Liberation Sans", sans-serif' transform="rotate(-30 135.80 571.60)" stroke="#5a5a5a" stroke-width="0.1">Vehicle</text>
<text x="155.30" y="571.60" font-size="6.4" text-anchor="end" fill="#78b8e8" font-weight="normal" font-family='"Liberation Sans", sans-serif' transform="rotate(-30 155.30 571.60)" stroke="#78b8e8" stroke-width="0.1">Ibrutinib</text>
<line x1="135.30" y1="515.50" x2="154.40" y2="515.50" stroke="#333" stroke-width="1.0"/>
<text x="144.85" y="515.90" font-size="7.0" text-anchor="middle" fill="#222" font-weight="normal" font-family='"Liberation Sans", sans-serif' stroke-width="0">**</text>
<text x="102.31" y="532.50" font-size="6.7" text-anchor="middle" fill="#222" font-weight="normal" font-family='"Liberation Sans", sans-serif' textLength="60.50" lengthAdjust="spacingAndGlyphs" transform="rotate(-90 102.31 532.50)" stroke="#222" stroke-width="0.1">Ly6C<tspan font-size="4.82" dy="-2.41">+</tspan><tspan dy="2.41"> T cells (×10</tspan><tspan font-size="4.82" dy="-2.41">3</tspan><tspan dy="2.41">)</tspan></text>
<rect x="211.70" y="553.47" width="12.00" height="10.03" fill="#9b9ba8"/>
<line x1="217.50" y1="548.00" x2="217.50" y2="558.94" stroke="#2a2a33" stroke-width="0.8"/>
<line x1="214.70" y1="547.50" x2="220.70" y2="547.50" stroke="#2a2a33" stroke-width="0.8"/>
<circle cx="217.70" cy="547.69" r="1.2" fill="#111"/>
<circle cx="215.70" cy="551.95" r="1.2" fill="#111"/>
<circle cx="219.70" cy="552.86" r="1.2" fill="#111"/>
<circle cx="217.70" cy="559.85" r="1.2" fill="#111"/>
<circle cx="219.70" cy="555.90" r="1.2" fill="#111"/>
<rect x="231.70" y="527.93" width="12.00" height="35.57" fill="#b3d2ef"/>
<line x1="237.50" y1="514.25" x2="237.50" y2="541.61" stroke="#5aa6e0" stroke-width="0.8"/>
<line x1="234.70" y1="514.50" x2="240.70" y2="514.50" stroke="#5aa6e0" stroke-width="0.8"/>
<circle cx="235.70" cy="514.25" r="1.2" fill="#111"/>
<circle cx="239.70" cy="515.47" r="1.2" fill="#111"/>
<circle cx="237.70" cy="530.06" r="1.2" fill="#111"/>
<circle cx="237.70" cy="532.19" r="1.2" fill="#111"/>
<circle cx="237.70" cy="546.78" r="1.2" fill="#111"/>
<line x1="203.50" y1="501.20" x2="203.50" y2="563.50" stroke="#222" stroke-width="1.0"/>
<line x1="203.30" y1="563.50" x2="250.80" y2="563.50" stroke="#222" stroke-width="1.0"/>
<line x1="201.00" y1="563.50" x2="203.80" y2="563.50" stroke="#222" stroke-width="0.9"/>
<text x="198.30" y="565.88" font-size="6.6" text-anchor="end" fill="#333" font-weight="normal" font-family='"Liberation Sans", sans-serif' stroke="#333" stroke-width="0.1">0</text>
<line x1="201.00" y1="548.50" x2="203.80" y2="548.50" stroke="#222" stroke-width="0.9"/>
<text x="198.30" y="550.68" font-size="6.6" text-anchor="end" fill="#333" font-weight="normal" font-family='"Liberation Sans", sans-serif' stroke="#333" stroke-width="0.1">5</text>
<line x1="201.00" y1="533.50" x2="203.80" y2="533.50" stroke="#222" stroke-width="0.9"/>
<text x="198.30" y="535.48" font-size="6.6" text-anchor="end" fill="#333" font-weight="normal" font-family='"Liberation Sans", sans-serif' stroke="#333" stroke-width="0.1">10</text>
<line x1="201.00" y1="517.50" x2="203.80" y2="517.50" stroke="#222" stroke-width="0.9"/>
<text x="198.30" y="520.28" font-size="6.6" text-anchor="end" fill="#333" font-weight="normal" font-family='"Liberation Sans", sans-serif' stroke="#333" stroke-width="0.1">15</text>
<line x1="201.00" y1="502.50" x2="203.80" y2="502.50" stroke="#222" stroke-width="0.9"/>
<text x="198.30" y="505.08" font-size="6.6" text-anchor="end" fill="#333" font-weight="normal" font-family='"Liberation Sans", sans-serif' stroke="#333" stroke-width="0.1">20</text>
<line x1="217.50" y1="563.50" x2="217.50" y2="565.90" stroke="#222" stroke-width="0.9"/>
<line x1="237.50" y1="563.50" x2="237.50" y2="565.90" stroke="#222" stroke-width="0.9"/>
<text x="219.00" y="571.80" font-size="6.4" text-anchor="end" fill="#5a5a5a" font-weight="normal" font-family='"Liberation Sans", sans-serif' transform="rotate(-30 219.00 571.80)" stroke="#5a5a5a" stroke-width="0.1">Vehicle</text>
<text x="238.40" y="571.80" font-size="6.4" text-anchor="end" fill="#78b8e8" font-weight="normal" font-family='"Liberation Sans", sans-serif' transform="rotate(-30 238.40 571.80)" stroke="#78b8e8" stroke-width="0.1">Ibrutinib</text>
<line x1="219.20" y1="510.50" x2="238.80" y2="510.50" stroke="#333" stroke-width="1.0"/>
<text x="229.00" y="510.10" font-size="7.0" text-anchor="middle" fill="#222" font-weight="normal" font-family='"Liberation Sans", sans-serif' stroke-width="0">**</text>
<text x="185.51" y="532.50" font-size="6.7" text-anchor="middle" fill="#222" font-weight="normal" font-family='"Liberation Sans", sans-serif' textLength="60.50" lengthAdjust="spacingAndGlyphs" transform="rotate(-90 185.51 532.50)" stroke="#222" stroke-width="0.1">Ly6C<tspan font-size="4.82" dy="-2.41">+</tspan><tspan dy="2.41"> T cells (×10</tspan><tspan font-size="4.82" dy="-2.41">3</tspan><tspan dy="2.41">)</tspan></text>
<text x="7.60" y="383.60" font-size="11" text-anchor="start" fill="#111" font-weight="bold" font-family='"Liberation Sans", sans-serif' stroke="#111" stroke-width="0.35">I</text>
<text x="7.00" y="496.30" font-size="11" text-anchor="start" fill="#111" font-weight="bold" font-family='"Liberation Sans", sans-serif' stroke="#111" stroke-width="0.35">J</text>
<rect x="299.70" y="447.36" width="8.00" height="17.24" fill="#a1a6b5"/>
<line x1="303.50" y1="441.14" x2="303.50" y2="452.34" stroke="#2e3a4a" stroke-width="0.8"/>
<line x1="301.70" y1="441.50" x2="305.70" y2="441.50" stroke="#2e3a4a" stroke-width="0.8"/>
<circle cx="301.50" cy="446.24" r="1.25" fill="#2e3a4a"/>
<circle cx="305.90" cy="444.20" r="1.25" fill="#2e3a4a"/>
<circle cx="303.70" cy="445.22" r="1.25" fill="#2e3a4a"/>
<circle cx="302.10" cy="449.30" r="1.25" fill="#2e3a4a"/>
<circle cx="305.30" cy="452.36" r="1.25" fill="#2e3a4a"/>
<rect x="313.80" y="429.41" width="8.00" height="35.19" fill="#e8766b"/>
<line x1="317.50" y1="421.76" x2="317.50" y2="435.53" stroke="#9a1a2c" stroke-width="0.8"/>
<line x1="315.80" y1="421.50" x2="319.80" y2="421.50" stroke="#9a1a2c" stroke-width="0.8"/>
<circle cx="315.60" cy="421.76" r="1.25" fill="#9a1a2c"/>
<circle cx="320.00" cy="422.78" r="1.25" fill="#9a1a2c"/>
<circle cx="317.80" cy="428.90" r="1.25" fill="#9a1a2c"/>
<circle cx="316.20" cy="429.92" r="1.25" fill="#9a1a2c"/>
<circle cx="319.40" cy="434.00" r="1.25" fill="#9a1a2c"/>
<circle cx="317.80" cy="427.88" r="1.25" fill="#9a1a2c"/>
<rect x="327.90" y="447.67" width="8.00" height="16.93" fill="#7b94c0"/>
<line x1="331.50" y1="443.79" x2="331.50" y2="450.77" stroke="#123c70" stroke-width="0.8"/>
<line x1="329.90" y1="443.50" x2="333.90" y2="443.50" stroke="#123c70" stroke-width="0.8"/>
<circle cx="329.70" cy="444.20" r="1.25" fill="#123c70"/>
<circle cx="334.10" cy="445.22" r="1.25" fill="#123c70"/>
<circle cx="331.90" cy="447.26" r="1.25" fill="#123c70"/>
<circle cx="330.30" cy="449.30" r="1.25" fill="#123c70"/>
<circle cx="333.50" cy="450.32" r="1.25" fill="#123c70"/>
<rect x="342.20" y="430.94" width="8.00" height="33.66" fill="#c4c2ea"/>
<line x1="346.50" y1="422.98" x2="346.50" y2="437.30" stroke="#7d76c0" stroke-width="0.8"/>
<line x1="344.20" y1="422.50" x2="348.20" y2="422.50" stroke="#7d76c0" stroke-width="0.8"/>
<circle cx="344.00" cy="423.80" r="1.25" fill="#7d76c0"/>
<circle cx="348.40" cy="424.82" r="1.25" fill="#7d76c0"/>
<circle cx="346.20" cy="434.00" r="1.25" fill="#7d76c0"/>
<circle cx="344.60" cy="435.02" r="1.25" fill="#7d76c0"/>
<circle cx="347.80" cy="430.94" r="1.25" fill="#7d76c0"/>
<line x1="294.50" y1="401.90" x2="294.50" y2="464.60" stroke="#222" stroke-width="1.0"/>
<line x1="293.90" y1="464.50" x2="355.70" y2="464.50" stroke="#222" stroke-width="1.0"/>
<line x1="291.60" y1="464.50" x2="294.40" y2="464.50" stroke="#222" stroke-width="0.9"/>
<text x="288.70" y="466.98" font-size="6.6" text-anchor="end" fill="#333" font-weight="normal" font-family='"Liberation Sans", sans-serif' stroke="#333" stroke-width="0.1">0</text>
<line x1="291.60" y1="444.50" x2="294.40" y2="444.50" stroke="#222" stroke-width="0.9"/>
<text x="288.70" y="446.58" font-size="6.6" text-anchor="end" fill="#333" font-weight="normal" font-family='"Liberation Sans", sans-serif' stroke="#333" stroke-width="0.1">20</text>
<line x1="291.60" y1="423.50" x2="294.40" y2="423.50" stroke="#222" stroke-width="0.9"/>
<text x="288.70" y="426.18" font-size="6.6" text-anchor="end" fill="#333" font-weight="normal" font-family='"Liberation Sans", sans-serif' stroke="#333" stroke-width="0.1">40</text>
<line x1="291.60" y1="403.50" x2="294.40" y2="403.50" stroke="#222" stroke-width="0.9"/>
<text x="288.70" y="405.78" font-size="6.6" text-anchor="end" fill="#333" font-weight="normal" font-family='"Liberation Sans", sans-serif' stroke="#333" stroke-width="0.1">60</text>
<line x1="303.80" y1="396.50" x2="346.30" y2="396.50" stroke="#333" stroke-width="1.0"/>
<text x="325.05" y="396.30" font-size="7.0" text-anchor="middle" fill="#222" font-weight="normal" font-family='"Liberation Sans", sans-serif' stroke-width="0">**</text>
<line x1="319.10" y1="403.50" x2="346.30" y2="403.50" stroke="#333" stroke-width="1.0"/>
<text x="332.70" y="401.80" font-size="6.0" text-anchor="middle" fill="#4a4a4a" font-weight="normal" font-family='"Liberation Sans", sans-serif' stroke-width="0">ns</text>
<line x1="303.80" y1="411.50" x2="331.90" y2="411.50" stroke="#333" stroke-width="1.0"/>
<text x="317.85" y="410.00" font-size="6.0" text-anchor="middle" fill="#4a4a4a" font-weight="normal" font-family='"Liberation Sans", sans-serif' stroke-width="0">ns</text>
<line x1="303.80" y1="418.50" x2="317.30" y2="418.50" stroke="#333" stroke-width="1.0"/>
<text x="310.55" y="418.10" font-size="7.0" text-anchor="middle" fill="#222" font-weight="normal" font-family='"Liberation Sans", sans-serif' stroke-width="0">**</text>
<line x1="318.80" y1="418.50" x2="331.50" y2="418.50" stroke="#333" stroke-width="1.0"/>
<text x="325.15" y="418.10" font-size="7.0" text-anchor="middle" fill="#222" font-weight="normal" font-family='"Liberation Sans", sans-serif' stroke-width="0">**</text>
<line x1="333.10" y1="418.50" x2="346.30" y2="418.50" stroke="#333" stroke-width="1.0"/>
<text x="339.70" y="418.10" font-size="7.0" text-anchor="middle" fill="#222" font-weight="normal" font-family='"Liberation Sans", sans-serif' stroke-width="0">**</text>
<text x="275.89" y="432.40" font-size="7.2" text-anchor="middle" fill="#222" font-weight="normal" font-family='"Liberation Sans", sans-serif' textLength="47.00" lengthAdjust="spacingAndGlyphs" transform="rotate(-90 275.89 432.40)" stroke="#222" stroke-width="0.1">PD-1<tspan font-size="5.18" dy="-2.59">+</tspan><tspan dy="2.59">TIGIT</tspan><tspan font-size="5.18" dy="-2.59">−</tspan><tspan dy="2.59"> (%)</tspan></text>
<text x="325.50" y="383.80" font-size="8.6" text-anchor="middle" fill="#222" font-weight="normal" font-family='"Liberation Sans", sans-serif' stroke="#222" stroke-width="0.1">2C-Tg</text>
<text x="267.60" y="383.80" font-size="11" text-anchor="start" fill="#111" font-weight="bold" font-family='"Liberation Sans", sans-serif' stroke="#111" stroke-width="0.35">K</text>
<rect x="414.80" y="450.83" width="8.00" height="13.77" fill="#a1a6b5"/>
<line x1="418.50" y1="447.59" x2="418.50" y2="453.42" stroke="#2e3a4a" stroke-width="0.8"/>
<line x1="416.80" y1="447.50" x2="420.80" y2="447.50" stroke="#2e3a4a" stroke-width="0.8"/>
<circle cx="416.60" cy="447.59" r="1.25" fill="#2e3a4a"/>
<circle cx="421.00" cy="448.40" r="1.25" fill="#2e3a4a"/>
<circle cx="418.80" cy="450.43" r="1.25" fill="#2e3a4a"/>
<circle cx="417.20" cy="452.45" r="1.25" fill="#2e3a4a"/>
<circle cx="420.40" cy="453.26" r="1.25" fill="#2e3a4a"/>
<rect x="428.80" y="433.42" width="8.00" height="31.19" fill="#e8766b"/>
<line x1="432.50" y1="426.53" x2="432.50" y2="438.92" stroke="#9a1a2c" stroke-width="0.8"/>
<line x1="430.80" y1="426.50" x2="434.80" y2="426.50" stroke="#9a1a2c" stroke-width="0.8"/>
<circle cx="430.60" cy="426.53" r="1.25" fill="#9a1a2c"/>
<circle cx="435.00" cy="430.18" r="1.25" fill="#9a1a2c"/>
<circle cx="432.80" cy="432.20" r="1.25" fill="#9a1a2c"/>
<circle cx="431.20" cy="436.25" r="1.25" fill="#9a1a2c"/>
<circle cx="434.40" cy="440.30" r="1.25" fill="#9a1a2c"/>
<circle cx="432.80" cy="441.92" r="1.25" fill="#9a1a2c"/>
<rect x="443.10" y="450.83" width="8.00" height="13.77" fill="#7b94c0"/>
<line x1="447.50" y1="443.95" x2="447.50" y2="456.34" stroke="#123c70" stroke-width="0.8"/>
<line x1="445.10" y1="443.50" x2="449.10" y2="443.50" stroke="#123c70" stroke-width="0.8"/>
<circle cx="444.90" cy="443.95" r="1.25" fill="#123c70"/>
<circle cx="449.30" cy="449.21" r="1.25" fill="#123c70"/>
<circle cx="447.10" cy="451.64" r="1.25" fill="#123c70"/>
<circle cx="445.50" cy="453.26" r="1.25" fill="#123c70"/>
<circle cx="448.70" cy="454.07" r="1.25" fill="#123c70"/>
<rect x="457.40" y="435.85" width="8.00" height="28.75" fill="#c4c2ea"/>
<line x1="461.50" y1="432.20" x2="461.50" y2="438.76" stroke="#7d76c0" stroke-width="0.8"/>
<line x1="459.40" y1="432.50" x2="463.40" y2="432.50" stroke="#7d76c0" stroke-width="0.8"/>
<circle cx="459.20" cy="432.20" r="1.25" fill="#7d76c0"/>
<circle cx="463.60" cy="433.01" r="1.25" fill="#7d76c0"/>
<circle cx="461.40" cy="434.63" r="1.25" fill="#7d76c0"/>
<circle cx="459.80" cy="437.06" r="1.25" fill="#7d76c0"/>
<circle cx="463.00" cy="440.30" r="1.25" fill="#7d76c0"/>
<line x1="409.50" y1="400.60" x2="409.50" y2="464.60" stroke="#222" stroke-width="1.0"/>
<line x1="408.80" y1="464.50" x2="470.70" y2="464.50" stroke="#222" stroke-width="1.0"/>
<line x1="406.50" y1="464.50" x2="409.30" y2="464.50" stroke="#222" stroke-width="0.9"/>
<text x="403.60" y="466.98" font-size="6.6" text-anchor="end" fill="#333" font-weight="normal" font-family='"Liberation Sans", sans-serif' stroke="#333" stroke-width="0.1">0</text>
<line x1="406.50" y1="444.50" x2="409.30" y2="444.50" stroke="#222" stroke-width="0.9"/>
<text x="403.60" y="446.73" font-size="6.6" text-anchor="end" fill="#333" font-weight="normal" font-family='"Liberation Sans", sans-serif' stroke="#333" stroke-width="0.1">5</text>
<line x1="406.50" y1="424.50" x2="409.30" y2="424.50" stroke="#222" stroke-width="0.9"/>
<text x="403.60" y="426.48" font-size="6.6" text-anchor="end" fill="#333" font-weight="normal" font-family='"Liberation Sans", sans-serif' stroke="#333" stroke-width="0.1">10</text>
<line x1="406.50" y1="403.50" x2="409.30" y2="403.50" stroke="#222" stroke-width="0.9"/>
<text x="403.60" y="406.23" font-size="6.6" text-anchor="end" fill="#333" font-weight="normal" font-family='"Liberation Sans", sans-serif' stroke="#333" stroke-width="0.1">15</text>
<line x1="418.80" y1="400.50" x2="461.00" y2="400.50" stroke="#333" stroke-width="1.0"/>
<text x="439.90" y="400.60" font-size="7.0" text-anchor="middle" fill="#222" font-weight="normal" font-family='"Liberation Sans", sans-serif' stroke-width="0">**</text>
<line x1="433.80" y1="407.50" x2="461.00" y2="407.50" stroke="#333" stroke-width="1.0"/>
<text x="447.40" y="406.20" font-size="6.0" text-anchor="middle" fill="#4a4a4a" font-weight="normal" font-family='"Liberation Sans", sans-serif' stroke-width="0">ns</text>
<line x1="418.80" y1="416.50" x2="446.30" y2="416.50" stroke="#333" stroke-width="1.0"/>
<text x="432.55" y="415.00" font-size="6.0" text-anchor="middle" fill="#4a4a4a" font-weight="normal" font-family='"Liberation Sans", sans-serif' stroke-width="0">ns</text>
<line x1="418.80" y1="423.50" x2="430.60" y2="423.50" stroke="#333" stroke-width="1.0"/>
<text x="424.70" y="423.10" font-size="7.0" text-anchor="middle" fill="#222" font-weight="normal" font-family='"Liberation Sans", sans-serif' stroke-width="0">**</text>
<line x1="433.10" y1="423.50" x2="446.30" y2="423.50" stroke="#333" stroke-width="1.0"/>
<text x="439.70" y="423.10" font-size="7.0" text-anchor="middle" fill="#222" font-weight="normal" font-family='"Liberation Sans", sans-serif' stroke-width="0">**</text>
<line x1="448.10" y1="423.50" x2="461.00" y2="423.50" stroke="#333" stroke-width="1.0"/>
<text x="454.55" y="423.10" font-size="7.0" text-anchor="middle" fill="#222" font-weight="normal" font-family='"Liberation Sans", sans-serif' stroke-width="0">**</text>
<text x="380.99" y="433.30" font-size="7.2" text-anchor="middle" fill="#222" font-weight="normal" font-family='"Liberation Sans", sans-serif' textLength="51.30" lengthAdjust="spacingAndGlyphs" transform="rotate(-90 380.99 433.30)" stroke="#222" stroke-width="0.1">No. of PD-1<tspan font-size="5.18" dy="-2.59">+</tspan><tspan dy="2.59">TIGIT</tspan><tspan font-size="5.18" dy="-2.59">−</tspan></text>
<text x="390.59" y="432.40" font-size="7.2" text-anchor="middle" fill="#222" font-weight="normal" font-family='"Liberation Sans", sans-serif' textLength="39.30" lengthAdjust="spacingAndGlyphs" transform="rotate(-90 390.59 432.40)" stroke="#222" stroke-width="0.1">T cells (×10<tspan font-size="5.18" dy="-2.59">3</tspan><tspan dy="2.59">)</tspan></text>
<text x="440.50" y="383.80" font-size="8.6" text-anchor="middle" fill="#222" font-weight="normal" font-family='"Liberation Sans", sans-serif' stroke="#222" stroke-width="0.1">2C-Tg</text>
<text x="378.60" y="383.60" font-size="11" text-anchor="start" fill="#111" font-weight="bold" font-family='"Liberation Sans", sans-serif' stroke="#111" stroke-width="0.35">L</text>
<rect x="299.80" y="570.33" width="8.00" height="3.88" fill="#a1a6b5"/>
<line x1="303.50" y1="569.55" x2="303.50" y2="570.95" stroke="#2e3a4a" stroke-width="0.8"/>
<line x1="301.80" y1="569.50" x2="305.80" y2="569.50" stroke="#2e3a4a" stroke-width="0.8"/>
<circle cx="301.60" cy="568.78" r="1.25" fill="#2e3a4a"/>
<circle cx="306.00" cy="570.33" r="1.25" fill="#2e3a4a"/>
<circle cx="303.80" cy="571.10" r="1.25" fill="#2e3a4a"/>
<circle cx="302.20" cy="571.88" r="1.25" fill="#2e3a4a"/>
<circle cx="305.40" cy="571.10" r="1.25" fill="#2e3a4a"/>
<rect x="313.80" y="540.88" width="8.00" height="33.33" fill="#e8766b"/>
<line x1="317.50" y1="533.12" x2="317.50" y2="547.08" stroke="#9a1a2c" stroke-width="0.8"/>
<line x1="315.80" y1="533.50" x2="319.80" y2="533.50" stroke="#9a1a2c" stroke-width="0.8"/>
<circle cx="315.60" cy="533.12" r="1.25" fill="#9a1a2c"/>
<circle cx="320.00" cy="533.90" r="1.25" fill="#9a1a2c"/>
<circle cx="317.80" cy="537.00" r="1.25" fill="#9a1a2c"/>
<circle cx="316.20" cy="540.10" r="1.25" fill="#9a1a2c"/>
<circle cx="319.40" cy="543.20" r="1.25" fill="#9a1a2c"/>
<circle cx="317.80" cy="546.30" r="1.25" fill="#9a1a2c"/>
<rect x="327.90" y="568.39" width="8.00" height="5.81" fill="#7b94c0"/>
<line x1="331.50" y1="563.35" x2="331.50" y2="572.42" stroke="#123c70" stroke-width="0.8"/>
<line x1="329.90" y1="563.50" x2="333.90" y2="563.50" stroke="#123c70" stroke-width="0.8"/>
<circle cx="329.70" cy="563.35" r="1.25" fill="#123c70"/>
<circle cx="334.10" cy="565.68" r="1.25" fill="#123c70"/>
<circle cx="331.90" cy="568.00" r="1.25" fill="#123c70"/>
<circle cx="330.30" cy="569.55" r="1.25" fill="#123c70"/>
<circle cx="333.50" cy="571.88" r="1.25" fill="#123c70"/>
<rect x="342.40" y="535.45" width="8.00" height="38.75" fill="#c4c2ea"/>
<line x1="346.50" y1="526.15" x2="346.50" y2="542.89" stroke="#7d76c0" stroke-width="0.8"/>
<line x1="344.40" y1="526.50" x2="348.40" y2="526.50" stroke="#7d76c0" stroke-width="0.8"/>
<circle cx="344.20" cy="526.15" r="1.25" fill="#7d76c0"/>
<circle cx="348.60" cy="527.70" r="1.25" fill="#7d76c0"/>
<circle cx="346.40" cy="537.00" r="1.25" fill="#7d76c0"/>
<circle cx="344.80" cy="537.78" r="1.25" fill="#7d76c0"/>
<circle cx="348.00" cy="543.20" r="1.25" fill="#7d76c0"/>
<line x1="294.50" y1="510.60" x2="294.50" y2="574.20" stroke="#222" stroke-width="1.0"/>
<line x1="293.50" y1="574.50" x2="355.70" y2="574.50" stroke="#222" stroke-width="1.0"/>
<line x1="291.20" y1="574.50" x2="294.00" y2="574.50" stroke="#222" stroke-width="0.9"/>
<text x="288.30" y="576.58" font-size="6.6" text-anchor="end" fill="#333" font-weight="normal" font-family='"Liberation Sans", sans-serif' stroke="#333" stroke-width="0.1">0</text>
<line x1="291.20" y1="558.50" x2="294.00" y2="558.50" stroke="#222" stroke-width="0.9"/>
<text x="288.30" y="561.08" font-size="6.6" text-anchor="end" fill="#333" font-weight="normal" font-family='"Liberation Sans", sans-serif' stroke="#333" stroke-width="0.1">20</text>
<line x1="291.20" y1="543.50" x2="294.00" y2="543.50" stroke="#222" stroke-width="0.9"/>
<text x="288.30" y="545.58" font-size="6.6" text-anchor="end" fill="#333" font-weight="normal" font-family='"Liberation Sans", sans-serif' stroke="#333" stroke-width="0.1">40</text>
<line x1="291.20" y1="527.50" x2="294.00" y2="527.50" stroke="#222" stroke-width="0.9"/>
<text x="288.30" y="530.08" font-size="6.6" text-anchor="end" fill="#333" font-weight="normal" font-family='"Liberation Sans", sans-serif' stroke="#333" stroke-width="0.1">60</text>
<line x1="291.20" y1="512.50" x2="294.00" y2="512.50" stroke="#222" stroke-width="0.9"/>
<text x="288.30" y="514.58" font-size="6.6" text-anchor="end" fill="#333" font-weight="normal" font-family='"Liberation Sans", sans-serif' stroke="#333" stroke-width="0.1">80</text>
<line x1="304.00" y1="505.50" x2="346.30" y2="505.50" stroke="#333" stroke-width="1.0"/>
<text x="325.15" y="505.00" font-size="7.0" text-anchor="middle" fill="#222" font-weight="normal" font-family='"Liberation Sans", sans-serif' stroke-width="0">**</text>
<line x1="319.00" y1="512.50" x2="346.30" y2="512.50" stroke="#333" stroke-width="1.0"/>
<text x="332.65" y="510.80" font-size="6.0" text-anchor="middle" fill="#4a4a4a" font-weight="normal" font-family='"Liberation Sans", sans-serif' stroke-width="0">ns</text>
<line x1="304.00" y1="520.50" x2="331.30" y2="520.50" stroke="#333" stroke-width="1.0"/>
<text x="317.65" y="519.30" font-size="6.0" text-anchor="middle" fill="#4a4a4a" font-weight="normal" font-family='"Liberation Sans", sans-serif' stroke-width="0">ns</text>
<line x1="333.10" y1="520.50" x2="346.30" y2="520.50" stroke="#333" stroke-width="1.0"/>
<text x="339.70" y="520.60" font-size="7.0" text-anchor="middle" fill="#222" font-weight="normal" font-family='"Liberation Sans", sans-serif' stroke-width="0">**</text>
<line x1="304.00" y1="528.50" x2="316.90" y2="528.50" stroke="#8a6066" stroke-width="1.0"/>
<text x="310.45" y="528.80" font-size="7.0" text-anchor="middle" fill="#222" font-weight="normal" font-family='"Liberation Sans", sans-serif' stroke-width="0">**</text>
<line x1="319.00" y1="528.50" x2="332.50" y2="528.50" stroke="#5f7a7a" stroke-width="1.0"/>
<text x="325.75" y="528.80" font-size="7.0" text-anchor="middle" fill="#222" font-weight="normal" font-family='"Liberation Sans", sans-serif' stroke-width="0">**</text>
<text x="275.39" y="543.90" font-size="7.2" text-anchor="middle" fill="#222" font-weight="normal" font-family='"Liberation Sans", sans-serif' textLength="39.20" lengthAdjust="spacingAndGlyphs" transform="rotate(-90 275.39 543.90)" stroke="#222" stroke-width="0.1">Ly6C<tspan font-size="5.18" dy="-2.59">+</tspan><tspan dy="2.59">/CD8.1</tspan><tspan font-size="5.18" dy="-2.59">+</tspan></text>
<text x="282.00" y="504.80" font-size="6.0" text-anchor="middle" fill="#333" font-weight="normal" font-family='"Liberation Sans", sans-serif' stroke="#333" stroke-width="0.1">(%)</text>
<text x="325.50" y="493.30" font-size="8.6" text-anchor="middle" fill="#222" font-weight="normal" font-family='"Liberation Sans", sans-serif' stroke="#222" stroke-width="0.1">2C-Tg</text>
<text x="266.00" y="493.30" font-size="11" text-anchor="start" fill="#111" font-weight="bold" font-family='"Liberation Sans", sans-serif' stroke="#111" stroke-width="0.35">M</text>
<rect x="414.80" y="564.16" width="8.00" height="10.04" fill="#a1a6b5"/>
<line x1="418.50" y1="557.54" x2="418.50" y2="569.45" stroke="#2e3a4a" stroke-width="0.8"/>
<line x1="416.80" y1="557.50" x2="420.80" y2="557.50" stroke="#2e3a4a" stroke-width="0.8"/>
<circle cx="416.60" cy="558.28" r="1.25" fill="#2e3a4a"/>
<circle cx="421.00" cy="561.95" r="1.25" fill="#2e3a4a"/>
<circle cx="418.80" cy="566.85" r="1.25" fill="#2e3a4a"/>
<circle cx="417.20" cy="569.30" r="1.25" fill="#2e3a4a"/>
<circle cx="420.40" cy="569.79" r="1.25" fill="#2e3a4a"/>
<rect x="429.00" y="543.09" width="8.00" height="31.12" fill="#e8766b"/>
<line x1="433.50" y1="535.00" x2="433.50" y2="549.55" stroke="#9a1a2c" stroke-width="0.8"/>
<line x1="431.00" y1="535.50" x2="435.00" y2="535.50" stroke="#9a1a2c" stroke-width="0.8"/>
<circle cx="430.80" cy="531.33" r="1.25" fill="#9a1a2c"/>
<circle cx="435.20" cy="537.45" r="1.25" fill="#9a1a2c"/>
<circle cx="433.00" cy="542.35" r="1.25" fill="#9a1a2c"/>
<circle cx="431.40" cy="547.25" r="1.25" fill="#9a1a2c"/>
<circle cx="434.60" cy="549.70" r="1.25" fill="#9a1a2c"/>
<circle cx="433.00" cy="550.93" r="1.25" fill="#9a1a2c"/>
<rect x="443.30" y="564.65" width="8.00" height="9.55" fill="#7b94c0"/>
<line x1="447.50" y1="555.83" x2="447.50" y2="571.70" stroke="#123c70" stroke-width="0.8"/>
<line x1="445.30" y1="555.50" x2="449.30" y2="555.50" stroke="#123c70" stroke-width="0.8"/>
<circle cx="445.10" cy="556.56" r="1.25" fill="#123c70"/>
<circle cx="449.50" cy="564.40" r="1.25" fill="#123c70"/>
<circle cx="447.30" cy="568.08" r="1.25" fill="#123c70"/>
<circle cx="445.70" cy="570.53" r="1.25" fill="#123c70"/>
<circle cx="448.90" cy="571.26" r="1.25" fill="#123c70"/>
<rect x="457.50" y="538.68" width="8.00" height="35.52" fill="#c4c2ea"/>
<line x1="461.50" y1="525.20" x2="461.50" y2="549.46" stroke="#7d76c0" stroke-width="0.8"/>
<line x1="459.50" y1="525.50" x2="463.50" y2="525.50" stroke="#7d76c0" stroke-width="0.8"/>
<circle cx="459.30" cy="525.20" r="1.25" fill="#7d76c0"/>
<circle cx="463.70" cy="525.69" r="1.25" fill="#7d76c0"/>
<circle cx="461.50" cy="539.90" r="1.25" fill="#7d76c0"/>
<circle cx="459.90" cy="544.80" r="1.25" fill="#7d76c0"/>
<circle cx="463.10" cy="552.15" r="1.25" fill="#7d76c0"/>
<line x1="408.50" y1="510.60" x2="408.50" y2="574.20" stroke="#222" stroke-width="1.0"/>
<line x1="408.00" y1="574.50" x2="470.70" y2="574.50" stroke="#222" stroke-width="1.0"/>
<line x1="405.70" y1="574.50" x2="408.50" y2="574.50" stroke="#222" stroke-width="0.9"/>
<text x="402.80" y="576.58" font-size="6.6" text-anchor="end" fill="#333" font-weight="normal" font-family='"Liberation Sans", sans-serif' stroke="#333" stroke-width="0.1">0</text>
<line x1="405.70" y1="561.50" x2="408.50" y2="561.50" stroke="#222" stroke-width="0.9"/>
<text x="402.80" y="564.33" font-size="6.6" text-anchor="end" fill="#333" font-weight="normal" font-family='"Liberation Sans", sans-serif' stroke="#333" stroke-width="0.1">5</text>
<line x1="405.70" y1="549.50" x2="408.50" y2="549.50" stroke="#222" stroke-width="0.9"/>
<text x="402.80" y="552.08" font-size="6.6" text-anchor="end" fill="#333" font-weight="normal" font-family='"Liberation Sans", sans-serif' stroke="#333" stroke-width="0.1">10</text>
<line x1="405.70" y1="537.50" x2="408.50" y2="537.50" stroke="#222" stroke-width="0.9"/>
<text x="402.80" y="539.83" font-size="6.6" text-anchor="end" fill="#333" font-weight="normal" font-family='"Liberation Sans", sans-serif' stroke="#333" stroke-width="0.1">15</text>
<line x1="405.70" y1="525.50" x2="408.50" y2="525.50" stroke="#222" stroke-width="0.9"/>
<text x="402.80" y="527.58" font-size="6.6" text-anchor="end" fill="#333" font-weight="normal" font-family='"Liberation Sans", sans-serif' stroke="#333" stroke-width="0.1">20</text>
<line x1="405.70" y1="512.50" x2="408.50" y2="512.50" stroke="#222" stroke-width="0.9"/>
<text x="402.80" y="515.33" font-size="6.6" text-anchor="end" fill="#333" font-weight="normal" font-family='"Liberation Sans", sans-serif' stroke="#333" stroke-width="0.1">25</text>
<line x1="418.50" y1="503.50" x2="461.00" y2="503.50" stroke="#333" stroke-width="1.0"/>
<text x="439.75" y="503.50" font-size="7.0" text-anchor="middle" fill="#222" font-weight="normal" font-family='"Liberation Sans", sans-serif' stroke-width="0">**</text>
<line x1="433.50" y1="510.50" x2="461.00" y2="510.50" stroke="#333" stroke-width="1.0"/>
<text x="447.25" y="509.10" font-size="6.0" text-anchor="middle" fill="#4a4a4a" font-weight="normal" font-family='"Liberation Sans", sans-serif' stroke-width="0">ns</text>
<line x1="418.50" y1="518.50" x2="445.60" y2="518.50" stroke="#333" stroke-width="1.0"/>
<text x="432.05" y="517.50" font-size="6.0" text-anchor="middle" fill="#4a4a4a" font-weight="normal" font-family='"Liberation Sans", sans-serif' stroke-width="0">ns</text>
<line x1="447.50" y1="518.50" x2="461.00" y2="518.50" stroke="#333" stroke-width="1.0"/>
<text x="454.25" y="518.80" font-size="7.0" text-anchor="middle" fill="#222" font-weight="normal" font-family='"Liberation Sans", sans-serif' stroke-width="0">**</text>
<line x1="418.50" y1="527.50" x2="431.50" y2="527.50" stroke="#333" stroke-width="1.0"/>
<text x="425.00" y="527.30" font-size="7.0" text-anchor="middle" fill="#222" font-weight="normal" font-family='"Liberation Sans", sans-serif' stroke-width="0">**</text>
<line x1="433.80" y1="527.50" x2="446.90" y2="527.50" stroke="#333" stroke-width="1.0"/>
<text x="440.35" y="527.30" font-size="7.0" text-anchor="middle" fill="#222" font-weight="normal" font-family='"Liberation Sans", sans-serif' stroke-width="0">**</text>
<text x="391.59" y="543.60" font-size="7.2" text-anchor="middle" fill="#222" font-weight="normal" font-family='"Liberation Sans", sans-serif' textLength="64.20" lengthAdjust="spacingAndGlyphs" transform="rotate(-90 391.59 543.60)" stroke="#222" stroke-width="0.1">Ly6C<tspan font-size="5.18" dy="-2.59">+</tspan><tspan dy="2.59"> T cells (×10</tspan><tspan font-size="5.18" dy="-2.59">3</tspan><tspan dy="2.59">)</tspan></text>
<text x="440.50" y="493.30" font-size="8.6" text-anchor="middle" fill="#222" font-weight="normal" font-family='"Liberation Sans", sans-serif' stroke="#222" stroke-width="0.1">2C-Tg</text>
<text x="382.40" y="493.30" font-size="11" text-anchor="start" fill="#111" font-weight="bold" font-family='"Liberation Sans", sans-serif' stroke="#111" stroke-width="0.35">N</text>
<rect x="480.00" y="470.30" width="5.60" height="5.60" fill="#3a4a58"/>
<text x="489.00" y="475.40" font-size="5.8" text-anchor="start" fill="#333" font-weight="normal" font-family='"Liberation Sans", sans-serif' stroke="#333" stroke-width="0.1">Vehicle</text>
<rect x="480.00" y="479.50" width="5.60" height="5.60" fill="#c8102e"/>
<text x="489.00" y="484.60" font-size="5.8" text-anchor="start" fill="#333" font-weight="normal" font-family='"Liberation Sans", sans-serif' stroke="#333" stroke-width="0.1">CSP</text>
<rect x="480.00" y="488.80" width="5.60" height="5.60" fill="#1a4a80"/>
<text x="489.00" y="493.90" font-size="5.8" text-anchor="start" fill="#333" font-weight="normal" font-family='"Liberation Sans", sans-serif' stroke="#333" stroke-width="0.1">IL-2</text>
<rect x="480.00" y="498.00" width="5.60" height="5.60" fill="#9a90d0"/>
<text x="489.00" y="503.10" font-size="5.8" text-anchor="start" fill="#333" font-weight="normal" font-family='"Liberation Sans", sans-serif' stroke="#333" stroke-width="0.1">CSP+IL-2</text>
<rect x="0.5" y="0.5" width="519" height="591" fill="none" stroke="#5a5a5a" stroke-width="1"/>
</svg></div></body></html>
